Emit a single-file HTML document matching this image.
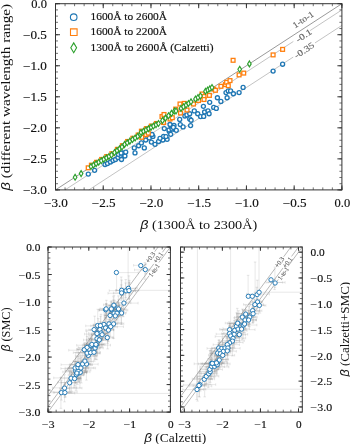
<!DOCTYPE html><html><head><meta charset="utf-8"><style>html,body{margin:0;padding:0;background:#fff;overflow:hidden;}svg{display:block;will-change:transform;}text{font-family:"Liberation Serif", serif;}</style></head><body>
<svg width="350" height="444" viewBox="0 0 350 444">
<rect width="350" height="444" fill="#fff"/>
<g>
<path d="M55.50 189.90L341.90 3.70" stroke="#808080" stroke-width="0.80" fill="none"/>
<path d="M65.05 189.90L293.32 41.49M310.08 30.59L341.90 9.91" stroke="#9a9a9a" stroke-width="0.60" fill="none"/>
<path d="M88.91 189.90L293.20 57.08M315.00 42.91L341.90 25.42" stroke="#9a9a9a" stroke-width="0.60" fill="none"/>
<text x="304.78" y="21.98" font-size="8.80" text-anchor="middle" fill="#666" stroke="#666" stroke-width="0.15" textLength="23.50" lengthAdjust="spacingAndGlyphs" transform="rotate(-33.03 304.78 21.98)">1-to-1</text>
<text x="305.38" y="37.98" font-size="8.80" text-anchor="middle" fill="#666" stroke="#666" stroke-width="0.15" textLength="17.20" lengthAdjust="spacingAndGlyphs" transform="rotate(-33.03 305.38 37.98)">-0.1</text>
<text x="305.78" y="52.68" font-size="8.80" text-anchor="middle" fill="#666" stroke="#666" stroke-width="0.15" textLength="22.20" lengthAdjust="spacingAndGlyphs" transform="rotate(-33.03 305.78 52.68)">-0.35</text>
<circle cx="88.30" cy="174.10" r="2.00" stroke="#1f77b4" stroke-width="1.35" fill="#fff"/>
<circle cx="94.60" cy="170.30" r="2.00" stroke="#1f77b4" stroke-width="1.35" fill="#fff"/>
<circle cx="105.00" cy="164.50" r="2.00" stroke="#1f77b4" stroke-width="1.35" fill="#fff"/>
<circle cx="107.50" cy="163.50" r="2.00" stroke="#1f77b4" stroke-width="1.35" fill="#fff"/>
<circle cx="110.50" cy="162.00" r="2.00" stroke="#1f77b4" stroke-width="1.35" fill="#fff"/>
<circle cx="113.00" cy="160.50" r="2.00" stroke="#1f77b4" stroke-width="1.35" fill="#fff"/>
<circle cx="115.50" cy="159.50" r="2.00" stroke="#1f77b4" stroke-width="1.35" fill="#fff"/>
<circle cx="118.00" cy="157.50" r="2.00" stroke="#1f77b4" stroke-width="1.35" fill="#fff"/>
<circle cx="120.50" cy="155.50" r="2.00" stroke="#1f77b4" stroke-width="1.35" fill="#fff"/>
<circle cx="121.50" cy="159.50" r="2.00" stroke="#1f77b4" stroke-width="1.35" fill="#fff"/>
<circle cx="122.50" cy="153.00" r="2.00" stroke="#1f77b4" stroke-width="1.35" fill="#fff"/>
<circle cx="124.90" cy="156.00" r="2.00" stroke="#1f77b4" stroke-width="1.35" fill="#fff"/>
<circle cx="118.30" cy="154.30" r="2.00" stroke="#1f77b4" stroke-width="1.35" fill="#fff"/>
<circle cx="121.10" cy="153.10" r="2.00" stroke="#1f77b4" stroke-width="1.35" fill="#fff"/>
<circle cx="125.70" cy="152.10" r="2.00" stroke="#1f77b4" stroke-width="1.35" fill="#fff"/>
<circle cx="134.30" cy="147.90" r="2.00" stroke="#1f77b4" stroke-width="1.35" fill="#fff"/>
<circle cx="135.00" cy="152.90" r="2.00" stroke="#1f77b4" stroke-width="1.35" fill="#fff"/>
<circle cx="138.60" cy="145.70" r="2.00" stroke="#1f77b4" stroke-width="1.35" fill="#fff"/>
<circle cx="144.30" cy="147.90" r="2.00" stroke="#1f77b4" stroke-width="1.35" fill="#fff"/>
<circle cx="141.40" cy="142.90" r="2.00" stroke="#1f77b4" stroke-width="1.35" fill="#fff"/>
<circle cx="145.70" cy="140.00" r="2.00" stroke="#1f77b4" stroke-width="1.35" fill="#fff"/>
<circle cx="149.30" cy="137.90" r="2.00" stroke="#1f77b4" stroke-width="1.35" fill="#fff"/>
<circle cx="152.90" cy="136.40" r="2.00" stroke="#1f77b4" stroke-width="1.35" fill="#fff"/>
<circle cx="151.40" cy="142.10" r="2.00" stroke="#1f77b4" stroke-width="1.35" fill="#fff"/>
<circle cx="155.00" cy="144.30" r="2.00" stroke="#1f77b4" stroke-width="1.35" fill="#fff"/>
<circle cx="158.60" cy="141.40" r="2.00" stroke="#1f77b4" stroke-width="1.35" fill="#fff"/>
<circle cx="162.90" cy="140.00" r="2.00" stroke="#1f77b4" stroke-width="1.35" fill="#fff"/>
<circle cx="163.60" cy="136.40" r="2.00" stroke="#1f77b4" stroke-width="1.35" fill="#fff"/>
<circle cx="167.10" cy="139.30" r="2.00" stroke="#1f77b4" stroke-width="1.35" fill="#fff"/>
<circle cx="164.30" cy="128.60" r="2.00" stroke="#1f77b4" stroke-width="1.35" fill="#fff"/>
<circle cx="169.30" cy="131.40" r="2.00" stroke="#1f77b4" stroke-width="1.35" fill="#fff"/>
<circle cx="170.70" cy="134.30" r="2.00" stroke="#1f77b4" stroke-width="1.35" fill="#fff"/>
<circle cx="171.40" cy="126.40" r="2.00" stroke="#1f77b4" stroke-width="1.35" fill="#fff"/>
<circle cx="174.30" cy="129.30" r="2.00" stroke="#1f77b4" stroke-width="1.35" fill="#fff"/>
<circle cx="152.00" cy="134.50" r="2.00" stroke="#1f77b4" stroke-width="1.35" fill="#fff"/>
<circle cx="169.00" cy="130.00" r="2.00" stroke="#1f77b4" stroke-width="1.35" fill="#fff"/>
<circle cx="172.00" cy="129.00" r="2.00" stroke="#1f77b4" stroke-width="1.35" fill="#fff"/>
<circle cx="174.00" cy="125.50" r="2.00" stroke="#1f77b4" stroke-width="1.35" fill="#fff"/>
<circle cx="170.00" cy="124.50" r="2.00" stroke="#1f77b4" stroke-width="1.35" fill="#fff"/>
<circle cx="173.40" cy="127.40" r="2.00" stroke="#1f77b4" stroke-width="1.35" fill="#fff"/>
<circle cx="176.30" cy="130.30" r="2.00" stroke="#1f77b4" stroke-width="1.35" fill="#fff"/>
<circle cx="179.70" cy="119.40" r="2.00" stroke="#1f77b4" stroke-width="1.35" fill="#fff"/>
<circle cx="180.30" cy="124.60" r="2.00" stroke="#1f77b4" stroke-width="1.35" fill="#fff"/>
<circle cx="183.10" cy="126.90" r="2.00" stroke="#1f77b4" stroke-width="1.35" fill="#fff"/>
<circle cx="184.90" cy="116.00" r="2.00" stroke="#1f77b4" stroke-width="1.35" fill="#fff"/>
<circle cx="186.90" cy="114.90" r="2.00" stroke="#1f77b4" stroke-width="1.35" fill="#fff"/>
<circle cx="189.70" cy="113.70" r="2.00" stroke="#1f77b4" stroke-width="1.35" fill="#fff"/>
<circle cx="194.30" cy="110.90" r="2.00" stroke="#1f77b4" stroke-width="1.35" fill="#fff"/>
<circle cx="197.70" cy="113.70" r="2.00" stroke="#1f77b4" stroke-width="1.35" fill="#fff"/>
<circle cx="200.60" cy="116.60" r="2.00" stroke="#1f77b4" stroke-width="1.35" fill="#fff"/>
<circle cx="203.40" cy="106.30" r="2.00" stroke="#1f77b4" stroke-width="1.35" fill="#fff"/>
<circle cx="204.60" cy="112.00" r="2.00" stroke="#1f77b4" stroke-width="1.35" fill="#fff"/>
<circle cx="208.00" cy="110.90" r="2.00" stroke="#1f77b4" stroke-width="1.35" fill="#fff"/>
<circle cx="209.10" cy="113.70" r="2.00" stroke="#1f77b4" stroke-width="1.35" fill="#fff"/>
<circle cx="209.70" cy="102.30" r="2.00" stroke="#1f77b4" stroke-width="1.35" fill="#fff"/>
<circle cx="213.70" cy="107.40" r="2.00" stroke="#1f77b4" stroke-width="1.35" fill="#fff"/>
<circle cx="220.90" cy="101.40" r="2.00" stroke="#1f77b4" stroke-width="1.35" fill="#fff"/>
<circle cx="189.70" cy="118.90" r="2.00" stroke="#1f77b4" stroke-width="1.35" fill="#fff"/>
<circle cx="217.40" cy="97.70" r="2.00" stroke="#1f77b4" stroke-width="1.35" fill="#fff"/>
<circle cx="226.00" cy="92.60" r="2.00" stroke="#1f77b4" stroke-width="1.35" fill="#fff"/>
<circle cx="228.30" cy="90.90" r="2.00" stroke="#1f77b4" stroke-width="1.35" fill="#fff"/>
<circle cx="230.60" cy="90.90" r="2.00" stroke="#1f77b4" stroke-width="1.35" fill="#fff"/>
<circle cx="233.40" cy="93.70" r="2.00" stroke="#1f77b4" stroke-width="1.35" fill="#fff"/>
<circle cx="227.10" cy="97.70" r="2.00" stroke="#1f77b4" stroke-width="1.35" fill="#fff"/>
<circle cx="239.10" cy="92.60" r="2.00" stroke="#1f77b4" stroke-width="1.35" fill="#fff"/>
<circle cx="243.10" cy="87.40" r="2.00" stroke="#1f77b4" stroke-width="1.35" fill="#fff"/>
<circle cx="273.10" cy="71.10" r="2.00" stroke="#1f77b4" stroke-width="1.35" fill="#fff"/>
<circle cx="282.60" cy="64.20" r="2.00" stroke="#1f77b4" stroke-width="1.35" fill="#fff"/>
<circle cx="160.00" cy="138.30" r="2.00" stroke="#1f77b4" stroke-width="1.35" fill="#fff"/>
<circle cx="166.00" cy="136.60" r="2.00" stroke="#1f77b4" stroke-width="1.35" fill="#fff"/>
<circle cx="190.60" cy="125.60" r="2.00" stroke="#1f77b4" stroke-width="1.35" fill="#fff"/>
<circle cx="191.10" cy="120.20" r="2.00" stroke="#1f77b4" stroke-width="1.35" fill="#fff"/>
<circle cx="203.70" cy="116.40" r="2.00" stroke="#1f77b4" stroke-width="1.35" fill="#fff"/>
<circle cx="216.30" cy="108.40" r="2.00" stroke="#1f77b4" stroke-width="1.35" fill="#fff"/>
<rect x="89.50" y="163.30" width="3.80" height="3.80" stroke="#ff7f0e" stroke-width="1.30" fill="#fff"/>
<rect x="94.62" y="160.42" width="3.80" height="3.80" stroke="#ff7f0e" stroke-width="1.30" fill="#fff"/>
<rect x="99.75" y="157.55" width="3.80" height="3.80" stroke="#ff7f0e" stroke-width="1.30" fill="#fff"/>
<rect x="104.88" y="154.67" width="3.80" height="3.80" stroke="#ff7f0e" stroke-width="1.30" fill="#fff"/>
<rect x="110.00" y="151.80" width="3.80" height="3.80" stroke="#ff7f0e" stroke-width="1.30" fill="#fff"/>
<rect x="115.50" y="147.47" width="3.80" height="3.80" stroke="#ff7f0e" stroke-width="1.30" fill="#fff"/>
<rect x="120.50" y="143.80" width="3.80" height="3.80" stroke="#ff7f0e" stroke-width="1.30" fill="#fff"/>
<rect x="125.73" y="139.58" width="3.80" height="3.80" stroke="#ff7f0e" stroke-width="1.30" fill="#fff"/>
<rect x="131.00" y="136.35" width="3.80" height="3.80" stroke="#ff7f0e" stroke-width="1.30" fill="#fff"/>
<rect x="136.27" y="133.12" width="3.80" height="3.80" stroke="#ff7f0e" stroke-width="1.30" fill="#fff"/>
<rect x="139.50" y="129.30" width="3.80" height="3.80" stroke="#ff7f0e" stroke-width="1.30" fill="#fff"/>
<rect x="144.50" y="126.73" width="3.80" height="3.80" stroke="#ff7f0e" stroke-width="1.30" fill="#fff"/>
<rect x="149.50" y="124.16" width="3.80" height="3.80" stroke="#ff7f0e" stroke-width="1.30" fill="#fff"/>
<rect x="154.50" y="121.59" width="3.80" height="3.80" stroke="#ff7f0e" stroke-width="1.30" fill="#fff"/>
<rect x="86.30" y="165.90" width="3.80" height="3.80" stroke="#ff7f0e" stroke-width="1.30" fill="#fff"/>
<rect x="139.80" y="135.40" width="3.80" height="3.80" stroke="#ff7f0e" stroke-width="1.30" fill="#fff"/>
<rect x="144.10" y="132.80" width="3.80" height="3.80" stroke="#ff7f0e" stroke-width="1.30" fill="#fff"/>
<rect x="160.10" y="114.60" width="3.80" height="3.80" stroke="#ff7f0e" stroke-width="1.30" fill="#fff"/>
<rect x="162.10" y="112.60" width="3.80" height="3.80" stroke="#ff7f0e" stroke-width="1.30" fill="#fff"/>
<rect x="161.60" y="120.60" width="3.80" height="3.80" stroke="#ff7f0e" stroke-width="1.30" fill="#fff"/>
<rect x="168.10" y="117.10" width="3.80" height="3.80" stroke="#ff7f0e" stroke-width="1.30" fill="#fff"/>
<rect x="178.10" y="102.10" width="3.80" height="3.80" stroke="#ff7f0e" stroke-width="1.30" fill="#fff"/>
<rect x="178.60" y="111.10" width="3.80" height="3.80" stroke="#ff7f0e" stroke-width="1.30" fill="#fff"/>
<rect x="185.10" y="108.10" width="3.80" height="3.80" stroke="#ff7f0e" stroke-width="1.30" fill="#fff"/>
<rect x="191.60" y="102.10" width="3.80" height="3.80" stroke="#ff7f0e" stroke-width="1.30" fill="#fff"/>
<rect x="196.60" y="98.60" width="3.80" height="3.80" stroke="#ff7f0e" stroke-width="1.30" fill="#fff"/>
<rect x="200.10" y="92.10" width="3.80" height="3.80" stroke="#ff7f0e" stroke-width="1.30" fill="#fff"/>
<rect x="202.10" y="94.60" width="3.80" height="3.80" stroke="#ff7f0e" stroke-width="1.30" fill="#fff"/>
<rect x="202.10" y="97.60" width="3.80" height="3.80" stroke="#ff7f0e" stroke-width="1.30" fill="#fff"/>
<rect x="207.50" y="93.50" width="3.80" height="3.80" stroke="#ff7f0e" stroke-width="1.30" fill="#fff"/>
<rect x="211.80" y="87.20" width="3.80" height="3.80" stroke="#ff7f0e" stroke-width="1.30" fill="#fff"/>
<rect x="213.50" y="88.40" width="3.80" height="3.80" stroke="#ff7f0e" stroke-width="1.30" fill="#fff"/>
<rect x="219.00" y="84.40" width="3.80" height="3.80" stroke="#ff7f0e" stroke-width="1.30" fill="#fff"/>
<rect x="223.50" y="82.70" width="3.80" height="3.80" stroke="#ff7f0e" stroke-width="1.30" fill="#fff"/>
<rect x="224.70" y="80.40" width="3.80" height="3.80" stroke="#ff7f0e" stroke-width="1.30" fill="#fff"/>
<rect x="228.10" y="78.70" width="3.80" height="3.80" stroke="#ff7f0e" stroke-width="1.30" fill="#fff"/>
<rect x="226.40" y="83.80" width="3.80" height="3.80" stroke="#ff7f0e" stroke-width="1.30" fill="#fff"/>
<rect x="237.20" y="73.00" width="3.80" height="3.80" stroke="#ff7f0e" stroke-width="1.30" fill="#fff"/>
<rect x="241.80" y="71.20" width="3.80" height="3.80" stroke="#ff7f0e" stroke-width="1.30" fill="#fff"/>
<rect x="231.20" y="58.40" width="3.80" height="3.80" stroke="#ff7f0e" stroke-width="1.30" fill="#fff"/>
<rect x="271.20" y="53.00" width="3.80" height="3.80" stroke="#ff7f0e" stroke-width="1.30" fill="#fff"/>
<rect x="280.70" y="47.50" width="3.80" height="3.80" stroke="#ff7f0e" stroke-width="1.30" fill="#fff"/>
<rect x="146.40" y="131.20" width="3.80" height="3.80" stroke="#ff7f0e" stroke-width="1.30" fill="#fff"/>
<rect x="170.40" y="115.80" width="3.80" height="3.80" stroke="#ff7f0e" stroke-width="1.30" fill="#fff"/>
<rect x="173.80" y="107.20" width="3.80" height="3.80" stroke="#ff7f0e" stroke-width="1.30" fill="#fff"/>
<rect x="182.40" y="101.50" width="3.80" height="3.80" stroke="#ff7f0e" stroke-width="1.30" fill="#fff"/>
<path d="M75.10 174.35l1.80 2.95l-1.80 2.95l-1.80 -2.95z" stroke="#2ca02c" stroke-width="1.15" fill="#fff"/>
<path d="M81.10 170.65l1.80 2.95l-1.80 2.95l-1.80 -2.95z" stroke="#2ca02c" stroke-width="1.15" fill="#fff"/>
<path d="M239.70 66.35l1.80 2.95l-1.80 2.95l-1.80 -2.95z" stroke="#2ca02c" stroke-width="1.15" fill="#fff"/>
<path d="M249.40 60.95l1.80 2.95l-1.80 2.95l-1.80 -2.95z" stroke="#2ca02c" stroke-width="1.15" fill="#fff"/>
<path d="M91.00 163.55l1.80 2.95l-1.80 2.95l-1.80 -2.95z" stroke="#2ca02c" stroke-width="1.15" fill="#fff"/>
<path d="M93.56 162.11l1.80 2.95l-1.80 2.95l-1.80 -2.95z" stroke="#2ca02c" stroke-width="1.15" fill="#fff"/>
<path d="M96.12 160.68l1.80 2.95l-1.80 2.95l-1.80 -2.95z" stroke="#2ca02c" stroke-width="1.15" fill="#fff"/>
<path d="M98.69 159.24l1.80 2.95l-1.80 2.95l-1.80 -2.95z" stroke="#2ca02c" stroke-width="1.15" fill="#fff"/>
<path d="M101.25 157.80l1.80 2.95l-1.80 2.95l-1.80 -2.95z" stroke="#2ca02c" stroke-width="1.15" fill="#fff"/>
<path d="M103.81 156.36l1.80 2.95l-1.80 2.95l-1.80 -2.95z" stroke="#2ca02c" stroke-width="1.15" fill="#fff"/>
<path d="M106.38 154.93l1.80 2.95l-1.80 2.95l-1.80 -2.95z" stroke="#2ca02c" stroke-width="1.15" fill="#fff"/>
<path d="M108.94 153.49l1.80 2.95l-1.80 2.95l-1.80 -2.95z" stroke="#2ca02c" stroke-width="1.15" fill="#fff"/>
<path d="M111.50 152.05l1.80 2.95l-1.80 2.95l-1.80 -2.95z" stroke="#2ca02c" stroke-width="1.15" fill="#fff"/>
<path d="M114.50 149.55l1.80 2.95l-1.80 2.95l-1.80 -2.95z" stroke="#2ca02c" stroke-width="1.15" fill="#fff"/>
<path d="M117.00 147.72l1.80 2.95l-1.80 2.95l-1.80 -2.95z" stroke="#2ca02c" stroke-width="1.15" fill="#fff"/>
<path d="M119.50 145.88l1.80 2.95l-1.80 2.95l-1.80 -2.95z" stroke="#2ca02c" stroke-width="1.15" fill="#fff"/>
<path d="M122.00 144.05l1.80 2.95l-1.80 2.95l-1.80 -2.95z" stroke="#2ca02c" stroke-width="1.15" fill="#fff"/>
<path d="M124.60 141.45l1.80 2.95l-1.80 2.95l-1.80 -2.95z" stroke="#2ca02c" stroke-width="1.15" fill="#fff"/>
<path d="M127.23 139.83l1.80 2.95l-1.80 2.95l-1.80 -2.95z" stroke="#2ca02c" stroke-width="1.15" fill="#fff"/>
<path d="M129.87 138.22l1.80 2.95l-1.80 2.95l-1.80 -2.95z" stroke="#2ca02c" stroke-width="1.15" fill="#fff"/>
<path d="M132.50 136.60l1.80 2.95l-1.80 2.95l-1.80 -2.95z" stroke="#2ca02c" stroke-width="1.15" fill="#fff"/>
<path d="M135.13 134.98l1.80 2.95l-1.80 2.95l-1.80 -2.95z" stroke="#2ca02c" stroke-width="1.15" fill="#fff"/>
<path d="M137.77 133.37l1.80 2.95l-1.80 2.95l-1.80 -2.95z" stroke="#2ca02c" stroke-width="1.15" fill="#fff"/>
<path d="M140.40 131.75l1.80 2.95l-1.80 2.95l-1.80 -2.95z" stroke="#2ca02c" stroke-width="1.15" fill="#fff"/>
<path d="M141.00 129.55l1.80 2.95l-1.80 2.95l-1.80 -2.95z" stroke="#2ca02c" stroke-width="1.15" fill="#fff"/>
<path d="M143.50 128.26l1.80 2.95l-1.80 2.95l-1.80 -2.95z" stroke="#2ca02c" stroke-width="1.15" fill="#fff"/>
<path d="M146.00 126.98l1.80 2.95l-1.80 2.95l-1.80 -2.95z" stroke="#2ca02c" stroke-width="1.15" fill="#fff"/>
<path d="M148.50 125.69l1.80 2.95l-1.80 2.95l-1.80 -2.95z" stroke="#2ca02c" stroke-width="1.15" fill="#fff"/>
<path d="M151.00 124.41l1.80 2.95l-1.80 2.95l-1.80 -2.95z" stroke="#2ca02c" stroke-width="1.15" fill="#fff"/>
<path d="M153.50 123.12l1.80 2.95l-1.80 2.95l-1.80 -2.95z" stroke="#2ca02c" stroke-width="1.15" fill="#fff"/>
<path d="M156.00 121.84l1.80 2.95l-1.80 2.95l-1.80 -2.95z" stroke="#2ca02c" stroke-width="1.15" fill="#fff"/>
<path d="M158.50 120.55l1.80 2.95l-1.80 2.95l-1.80 -2.95z" stroke="#2ca02c" stroke-width="1.15" fill="#fff"/>
<path d="M162.50 117.55l1.80 2.95l-1.80 2.95l-1.80 -2.95z" stroke="#2ca02c" stroke-width="1.15" fill="#fff"/>
<path d="M165.50 115.17l1.80 2.95l-1.80 2.95l-1.80 -2.95z" stroke="#2ca02c" stroke-width="1.15" fill="#fff"/>
<path d="M168.50 112.80l1.80 2.95l-1.80 2.95l-1.80 -2.95z" stroke="#2ca02c" stroke-width="1.15" fill="#fff"/>
<path d="M171.50 110.42l1.80 2.95l-1.80 2.95l-1.80 -2.95z" stroke="#2ca02c" stroke-width="1.15" fill="#fff"/>
<path d="M174.50 108.05l1.80 2.95l-1.80 2.95l-1.80 -2.95z" stroke="#2ca02c" stroke-width="1.15" fill="#fff"/>
<path d="M176.00 108.05l1.80 2.95l-1.80 2.95l-1.80 -2.95z" stroke="#2ca02c" stroke-width="1.15" fill="#fff"/>
<path d="M181.00 105.45l1.80 2.95l-1.80 2.95l-1.80 -2.95z" stroke="#2ca02c" stroke-width="1.15" fill="#fff"/>
<path d="M183.50 103.80l1.80 2.95l-1.80 2.95l-1.80 -2.95z" stroke="#2ca02c" stroke-width="1.15" fill="#fff"/>
<path d="M186.00 102.15l1.80 2.95l-1.80 2.95l-1.80 -2.95z" stroke="#2ca02c" stroke-width="1.15" fill="#fff"/>
<path d="M188.50 100.50l1.80 2.95l-1.80 2.95l-1.80 -2.95z" stroke="#2ca02c" stroke-width="1.15" fill="#fff"/>
<path d="M191.00 98.85l1.80 2.95l-1.80 2.95l-1.80 -2.95z" stroke="#2ca02c" stroke-width="1.15" fill="#fff"/>
<path d="M195.50 96.05l1.80 2.95l-1.80 2.95l-1.80 -2.95z" stroke="#2ca02c" stroke-width="1.15" fill="#fff"/>
<path d="M198.00 94.55l1.80 2.95l-1.80 2.95l-1.80 -2.95z" stroke="#2ca02c" stroke-width="1.15" fill="#fff"/>
<path d="M200.50 93.05l1.80 2.95l-1.80 2.95l-1.80 -2.95z" stroke="#2ca02c" stroke-width="1.15" fill="#fff"/>
<path d="M205.50 88.25l1.80 2.95l-1.80 2.95l-1.80 -2.95z" stroke="#2ca02c" stroke-width="1.15" fill="#fff"/>
<path d="M207.67 87.02l1.80 2.95l-1.80 2.95l-1.80 -2.95z" stroke="#2ca02c" stroke-width="1.15" fill="#fff"/>
<path d="M209.83 85.78l1.80 2.95l-1.80 2.95l-1.80 -2.95z" stroke="#2ca02c" stroke-width="1.15" fill="#fff"/>
<path d="M212.00 84.55l1.80 2.95l-1.80 2.95l-1.80 -2.95z" stroke="#2ca02c" stroke-width="1.15" fill="#fff"/>
</g>
<path d="M70.40 17.20a3.30 3.30 0 1 0 6.60 0a3.30 3.30 0 1 0 -6.60 0" stroke="#1f77b4" stroke-width="1.10" fill="none"/>
<path d="M70.50 28.90h6.60v6.60h-6.60z" stroke="#ff7f0e" stroke-width="1.10" fill="none"/>
<path d="M73.70 42.90l2.90 4.90l-2.90 4.90l-2.90 -4.90z" stroke="#2ca02c" stroke-width="1.10" fill="none"/>
<text x="90.50" y="20.20" font-size="10.30" text-anchor="start" fill="#111" stroke="#111" stroke-width="0.15" textLength="76.50" lengthAdjust="spacingAndGlyphs">1600Å to 2600Å</text>
<text x="90.50" y="35.40" font-size="10.30" text-anchor="start" fill="#111" stroke="#111" stroke-width="0.15" textLength="76.50" lengthAdjust="spacingAndGlyphs">1600Å to 2200Å</text>
<text x="90.50" y="51.00" font-size="10.30" text-anchor="start" fill="#111" stroke="#111" stroke-width="0.15" textLength="123.00" lengthAdjust="spacingAndGlyphs">1300Å to 2600Å (Calzetti)</text>
<path d="M55.50 189.90L55.50 185.40M55.50 3.70L55.50 8.20M103.23 189.90L103.23 185.40M103.23 3.70L103.23 8.20M150.97 189.90L150.97 185.40M150.97 3.70L150.97 8.20M198.70 189.90L198.70 185.40M198.70 3.70L198.70 8.20M246.43 189.90L246.43 185.40M246.43 3.70L246.43 8.20M294.17 189.90L294.17 185.40M294.17 3.70L294.17 8.20M341.90 189.90L341.90 185.40M341.90 3.70L341.90 8.20M55.50 189.90L60.00 189.90M341.90 189.90L337.40 189.90M55.50 158.87L60.00 158.87M341.90 158.87L337.40 158.87M55.50 127.83L60.00 127.83M341.90 127.83L337.40 127.83M55.50 96.80L60.00 96.80M341.90 96.80L337.40 96.80M55.50 65.77L60.00 65.77M341.90 65.77L337.40 65.77M55.50 34.73L60.00 34.73M341.90 34.73L337.40 34.73M55.50 3.70L60.00 3.70M341.90 3.70L337.40 3.70" stroke="#333" stroke-width="1.00" fill="none"/>
<path d="M55.50 189.90L55.50 187.40M55.50 3.70L55.50 6.20M65.05 189.90L65.05 187.40M65.05 3.70L65.05 6.20M74.59 189.90L74.59 187.40M74.59 3.70L74.59 6.20M84.14 189.90L84.14 187.40M84.14 3.70L84.14 6.20M93.69 189.90L93.69 187.40M93.69 3.70L93.69 6.20M103.23 189.90L103.23 187.40M103.23 3.70L103.23 6.20M112.78 189.90L112.78 187.40M112.78 3.70L112.78 6.20M122.33 189.90L122.33 187.40M122.33 3.70L122.33 6.20M131.87 189.90L131.87 187.40M131.87 3.70L131.87 6.20M141.42 189.90L141.42 187.40M141.42 3.70L141.42 6.20M150.97 189.90L150.97 187.40M150.97 3.70L150.97 6.20M160.51 189.90L160.51 187.40M160.51 3.70L160.51 6.20M170.06 189.90L170.06 187.40M170.06 3.70L170.06 6.20M179.61 189.90L179.61 187.40M179.61 3.70L179.61 6.20M189.15 189.90L189.15 187.40M189.15 3.70L189.15 6.20M198.70 189.90L198.70 187.40M198.70 3.70L198.70 6.20M208.25 189.90L208.25 187.40M208.25 3.70L208.25 6.20M217.79 189.90L217.79 187.40M217.79 3.70L217.79 6.20M227.34 189.90L227.34 187.40M227.34 3.70L227.34 6.20M236.89 189.90L236.89 187.40M236.89 3.70L236.89 6.20M246.43 189.90L246.43 187.40M246.43 3.70L246.43 6.20M255.98 189.90L255.98 187.40M255.98 3.70L255.98 6.20M265.53 189.90L265.53 187.40M265.53 3.70L265.53 6.20M275.07 189.90L275.07 187.40M275.07 3.70L275.07 6.20M284.62 189.90L284.62 187.40M284.62 3.70L284.62 6.20M294.17 189.90L294.17 187.40M294.17 3.70L294.17 6.20M303.71 189.90L303.71 187.40M303.71 3.70L303.71 6.20M313.26 189.90L313.26 187.40M313.26 3.70L313.26 6.20M322.81 189.90L322.81 187.40M322.81 3.70L322.81 6.20M332.35 189.90L332.35 187.40M332.35 3.70L332.35 6.20M341.90 189.90L341.90 187.40M341.90 3.70L341.90 6.20M55.50 189.90L58.00 189.90M341.90 189.90L339.40 189.90M55.50 183.69L58.00 183.69M341.90 183.69L339.40 183.69M55.50 177.49L58.00 177.49M341.90 177.49L339.40 177.49M55.50 171.28L58.00 171.28M341.90 171.28L339.40 171.28M55.50 165.07L58.00 165.07M341.90 165.07L339.40 165.07M55.50 158.87L58.00 158.87M341.90 158.87L339.40 158.87M55.50 152.66L58.00 152.66M341.90 152.66L339.40 152.66M55.50 146.45L58.00 146.45M341.90 146.45L339.40 146.45M55.50 140.25L58.00 140.25M341.90 140.25L339.40 140.25M55.50 134.04L58.00 134.04M341.90 134.04L339.40 134.04M55.50 127.83L58.00 127.83M341.90 127.83L339.40 127.83M55.50 121.63L58.00 121.63M341.90 121.63L339.40 121.63M55.50 115.42L58.00 115.42M341.90 115.42L339.40 115.42M55.50 109.21L58.00 109.21M341.90 109.21L339.40 109.21M55.50 103.01L58.00 103.01M341.90 103.01L339.40 103.01M55.50 96.80L58.00 96.80M341.90 96.80L339.40 96.80M55.50 90.59L58.00 90.59M341.90 90.59L339.40 90.59M55.50 84.39L58.00 84.39M341.90 84.39L339.40 84.39M55.50 78.18L58.00 78.18M341.90 78.18L339.40 78.18M55.50 71.97L58.00 71.97M341.90 71.97L339.40 71.97M55.50 65.77L58.00 65.77M341.90 65.77L339.40 65.77M55.50 59.56L58.00 59.56M341.90 59.56L339.40 59.56M55.50 53.35L58.00 53.35M341.90 53.35L339.40 53.35M55.50 47.15L58.00 47.15M341.90 47.15L339.40 47.15M55.50 40.94L58.00 40.94M341.90 40.94L339.40 40.94M55.50 34.73L58.00 34.73M341.90 34.73L339.40 34.73M55.50 28.53L58.00 28.53M341.90 28.53L339.40 28.53M55.50 22.32L58.00 22.32M341.90 22.32L339.40 22.32M55.50 16.11L58.00 16.11M341.90 16.11L339.40 16.11M55.50 9.91L58.00 9.91M341.90 9.91L339.40 9.91M55.50 3.70L58.00 3.70M341.90 3.70L339.40 3.70" stroke="#333" stroke-width="0.70" fill="none"/>
<text x="46.90" y="194.00" font-size="11.70" text-anchor="end" fill="#111" stroke="#111" stroke-width="0.15" textLength="23.80" lengthAdjust="spacingAndGlyphs">−3.0</text>
<text x="46.90" y="162.97" font-size="11.70" text-anchor="end" fill="#111" stroke="#111" stroke-width="0.15" textLength="23.80" lengthAdjust="spacingAndGlyphs">−2.5</text>
<text x="46.90" y="131.93" font-size="11.70" text-anchor="end" fill="#111" stroke="#111" stroke-width="0.15" textLength="23.80" lengthAdjust="spacingAndGlyphs">−2.0</text>
<text x="46.90" y="100.90" font-size="11.70" text-anchor="end" fill="#111" stroke="#111" stroke-width="0.15" textLength="23.80" lengthAdjust="spacingAndGlyphs">−1.5</text>
<text x="46.90" y="69.87" font-size="11.70" text-anchor="end" fill="#111" stroke="#111" stroke-width="0.15" textLength="23.80" lengthAdjust="spacingAndGlyphs">−1.0</text>
<text x="46.90" y="38.83" font-size="11.70" text-anchor="end" fill="#111" stroke="#111" stroke-width="0.15" textLength="23.80" lengthAdjust="spacingAndGlyphs">−0.5</text>
<text x="46.90" y="7.80" font-size="11.70" text-anchor="end" fill="#111" stroke="#111" stroke-width="0.15" textLength="15.60" lengthAdjust="spacingAndGlyphs">0.0</text>
<text x="56.00" y="206.80" font-size="11.70" text-anchor="middle" fill="#111" stroke="#111" stroke-width="0.15" textLength="23.80" lengthAdjust="spacingAndGlyphs">−3.0</text>
<text x="103.73" y="206.80" font-size="11.70" text-anchor="middle" fill="#111" stroke="#111" stroke-width="0.15" textLength="23.80" lengthAdjust="spacingAndGlyphs">−2.5</text>
<text x="151.47" y="206.80" font-size="11.70" text-anchor="middle" fill="#111" stroke="#111" stroke-width="0.15" textLength="23.80" lengthAdjust="spacingAndGlyphs">−2.0</text>
<text x="199.20" y="206.80" font-size="11.70" text-anchor="middle" fill="#111" stroke="#111" stroke-width="0.15" textLength="23.80" lengthAdjust="spacingAndGlyphs">−1.5</text>
<text x="246.93" y="206.80" font-size="11.70" text-anchor="middle" fill="#111" stroke="#111" stroke-width="0.15" textLength="23.80" lengthAdjust="spacingAndGlyphs">−1.0</text>
<text x="294.67" y="206.80" font-size="11.70" text-anchor="middle" fill="#111" stroke="#111" stroke-width="0.15" textLength="23.80" lengthAdjust="spacingAndGlyphs">−0.5</text>
<text x="342.40" y="206.80" font-size="11.70" text-anchor="middle" fill="#111" stroke="#111" stroke-width="0.15" textLength="15.60" lengthAdjust="spacingAndGlyphs">0.0</text>
<text x="198.80" y="228.90" font-size="12.20" text-anchor="middle" fill="#111" textLength="117.00" lengthAdjust="spacingAndGlyphs"><tspan font-family="Liberation Sans" font-style="italic">β</tspan> (1300Å to 2300Å)</text>
<text x="10.00" y="97.30" font-size="12.20" text-anchor="middle" fill="#111" textLength="187.00" lengthAdjust="spacingAndGlyphs" transform="rotate(-90.00 10.00 97.30)"><tspan font-family="Liberation Sans" font-style="italic">β</tspan> (different wavelength range)</text>
<rect x="55.50" y="3.70" width="286.40" height="186.20" fill="none" stroke="#333" stroke-width="1.00"/>
<path d="M48.00 395.59L146.11 263.25M154.69 251.68L158.16 247.00" stroke="#8a8a8a" stroke-width="0.60" fill="none"/>
<path d="M48.00 406.60L153.81 263.87M162.39 252.30L166.32 247.00" stroke="#8a8a8a" stroke-width="0.60" fill="none"/>
<path d="M48.00 412.10L149.12 275.71M158.88 262.53L170.40 247.00" stroke="#8a8a8a" stroke-width="0.60" fill="none"/>
<text x="152.31" y="258.82" font-size="6.80" text-anchor="middle" fill="#555" stroke="#555" stroke-width="0.10" textLength="11.80" lengthAdjust="spacingAndGlyphs" transform="rotate(-53.45 152.31 258.82)">+0.3</text>
<text x="160.01" y="258.92" font-size="6.80" text-anchor="middle" fill="#555" stroke="#555" stroke-width="0.10" textLength="11.80" lengthAdjust="spacingAndGlyphs" transform="rotate(-53.45 160.01 258.92)">+0.1</text>
<text x="155.91" y="271.62" font-size="6.80" text-anchor="middle" fill="#555" stroke="#555" stroke-width="0.10" textLength="14.00" lengthAdjust="spacingAndGlyphs" transform="rotate(-53.45 155.91 271.62)">1-to-1</text>
<g stroke="#7a7a7a" stroke-width="0.80" stroke-opacity="0.22" fill="none">
<path d="M54.14 392.70H68.79"/>
<path d="M61.41 380.20V400.09"/>
<path d="M54.14 391.40V394.00"/>
<path d="M68.79 391.40V394.00"/>
<path d="M60.11 380.20H62.71"/>
<path d="M60.11 400.09H62.71"/>
<path d="M53.10 392.36H71.88"/>
<path d="M60.91 377.22V408.31"/>
<path d="M53.10 391.06V393.66"/>
<path d="M71.88 391.06V393.66"/>
<path d="M59.61 377.22H62.21"/>
<path d="M59.61 408.31H62.21"/>
<path d="M61.35 393.16H74.82"/>
<path d="M65.48 382.85V396.86"/>
<path d="M61.35 391.86V394.46"/>
<path d="M74.82 391.86V394.46"/>
<path d="M64.18 382.85H66.78"/>
<path d="M64.18 396.86H66.78"/>
<path d="M50.85 392.07H77.15"/>
<path d="M64.93 383.87V397.62"/>
<path d="M50.85 390.77V393.37"/>
<path d="M77.15 390.77V393.37"/>
<path d="M63.63 383.87H66.23"/>
<path d="M63.63 397.62H66.23"/>
<path d="M59.60 388.51H69.37"/>
<path d="M64.53 384.60V395.79"/>
<path d="M59.60 387.21V389.81"/>
<path d="M69.37 387.21V389.81"/>
<path d="M63.23 384.60H65.83"/>
<path d="M63.23 395.79H65.83"/>
<path d="M52.41 387.83H76.91"/>
<path d="M64.55 374.77V401.86"/>
<path d="M52.41 386.53V389.13"/>
<path d="M76.91 386.53V389.13"/>
<path d="M63.25 374.77H65.85"/>
<path d="M63.25 401.86H65.85"/>
<path d="M57.79 382.48H79.98"/>
<path d="M69.48 371.08V391.71"/>
<path d="M57.79 381.18V383.78"/>
<path d="M79.98 381.18V383.78"/>
<path d="M68.18 371.08H70.78"/>
<path d="M68.18 391.71H70.78"/>
<path d="M61.15 382.66H75.62"/>
<path d="M70.12 365.97V393.08"/>
<path d="M61.15 381.36V383.96"/>
<path d="M75.62 381.36V383.96"/>
<path d="M68.82 365.97H71.42"/>
<path d="M68.82 393.08H71.42"/>
<path d="M60.38 378.16H80.85"/>
<path d="M71.59 374.63V383.13"/>
<path d="M60.38 376.86V379.46"/>
<path d="M80.85 376.86V379.46"/>
<path d="M70.29 374.63H72.89"/>
<path d="M70.29 383.13H72.89"/>
<path d="M53.71 377.92H80.65"/>
<path d="M71.43 371.24V391.15"/>
<path d="M53.71 376.62V379.22"/>
<path d="M80.65 376.62V379.22"/>
<path d="M70.13 371.24H72.73"/>
<path d="M70.13 391.15H72.73"/>
<path d="M70.20 378.30H79.54"/>
<path d="M74.14 365.90V387.85"/>
<path d="M70.20 377.00V379.60"/>
<path d="M79.54 377.00V379.60"/>
<path d="M72.84 365.90H75.44"/>
<path d="M72.84 387.85H75.44"/>
<path d="M68.23 378.54H79.99"/>
<path d="M74.67 361.61V385.96"/>
<path d="M68.23 377.24V379.84"/>
<path d="M79.99 377.24V379.84"/>
<path d="M73.37 361.61H75.97"/>
<path d="M73.37 385.96H75.97"/>
<path d="M71.09 374.50H84.14"/>
<path d="M75.84 369.82V383.00"/>
<path d="M71.09 373.20V375.80"/>
<path d="M84.14 373.20V375.80"/>
<path d="M74.54 369.82H77.14"/>
<path d="M74.54 383.00H77.14"/>
<path d="M68.27 375.06H83.73"/>
<path d="M76.06 355.89V390.36"/>
<path d="M68.27 373.76V376.36"/>
<path d="M83.73 373.76V376.36"/>
<path d="M74.76 355.89H77.36"/>
<path d="M74.76 390.36H77.36"/>
<path d="M73.72 373.49H84.38"/>
<path d="M78.62 362.28V381.93"/>
<path d="M73.72 372.19V374.79"/>
<path d="M84.38 372.19V374.79"/>
<path d="M77.32 362.28H79.92"/>
<path d="M77.32 381.93H79.92"/>
<path d="M71.10 372.39H86.35"/>
<path d="M78.86 356.07V381.61"/>
<path d="M71.10 371.09V373.69"/>
<path d="M86.35 371.09V373.69"/>
<path d="M77.56 356.07H80.16"/>
<path d="M77.56 381.61H80.16"/>
<path d="M76.25 372.24H87.29"/>
<path d="M80.15 366.58V380.34"/>
<path d="M76.25 370.94V373.54"/>
<path d="M87.29 370.94V373.54"/>
<path d="M78.85 366.58H81.45"/>
<path d="M78.85 380.34H81.45"/>
<path d="M62.75 371.88H89.96"/>
<path d="M79.92 358.35V387.88"/>
<path d="M62.75 370.58V373.18"/>
<path d="M89.96 370.58V373.18"/>
<path d="M78.62 358.35H81.22"/>
<path d="M78.62 387.88H81.22"/>
<path d="M65.42 371.13H84.83"/>
<path d="M75.99 365.43V375.82"/>
<path d="M65.42 369.83V372.43"/>
<path d="M84.83 369.83V372.43"/>
<path d="M74.69 365.43H77.29"/>
<path d="M74.69 375.82H77.29"/>
<path d="M68.11 370.12H90.88"/>
<path d="M75.61 352.40V382.74"/>
<path d="M68.11 368.82V371.42"/>
<path d="M90.88 368.82V371.42"/>
<path d="M74.31 352.40H76.91"/>
<path d="M74.31 382.74H76.91"/>
<path d="M74.25 370.99H87.61"/>
<path d="M77.71 365.39V379.89"/>
<path d="M74.25 369.69V372.29"/>
<path d="M87.61 369.69V372.29"/>
<path d="M76.41 365.39H79.01"/>
<path d="M76.41 379.89H79.01"/>
<path d="M64.96 370.27H85.33"/>
<path d="M77.48 362.32V384.35"/>
<path d="M64.96 368.97V371.57"/>
<path d="M85.33 368.97V371.57"/>
<path d="M76.18 362.32H78.78"/>
<path d="M76.18 384.35H78.78"/>
<path d="M69.63 372.74H86.56"/>
<path d="M77.40 363.70V378.21"/>
<path d="M69.63 371.44V374.04"/>
<path d="M86.56 371.44V374.04"/>
<path d="M76.10 363.70H78.70"/>
<path d="M76.10 378.21H78.70"/>
<path d="M71.24 372.94H84.14"/>
<path d="M76.51 361.17V378.77"/>
<path d="M71.24 371.64V374.24"/>
<path d="M84.14 371.64V374.24"/>
<path d="M75.21 361.17H77.81"/>
<path d="M75.21 378.77H77.81"/>
<path d="M67.92 368.19H79.44"/>
<path d="M75.68 361.53V378.53"/>
<path d="M67.92 366.89V369.49"/>
<path d="M79.44 366.89V369.49"/>
<path d="M74.38 361.53H76.98"/>
<path d="M74.38 378.53H76.98"/>
<path d="M60.91 368.49H85.57"/>
<path d="M74.52 361.08V373.92"/>
<path d="M60.91 367.19V369.79"/>
<path d="M85.57 367.19V369.79"/>
<path d="M73.22 361.08H75.82"/>
<path d="M73.22 373.92H75.82"/>
<path d="M69.19 367.68H87.79"/>
<path d="M77.98 364.06V375.94"/>
<path d="M69.19 366.38V368.98"/>
<path d="M87.79 366.38V368.98"/>
<path d="M76.68 364.06H79.28"/>
<path d="M76.68 375.94H79.28"/>
<path d="M69.33 367.88H93.97"/>
<path d="M78.28 361.37V379.66"/>
<path d="M69.33 366.58V369.18"/>
<path d="M93.97 366.58V369.18"/>
<path d="M76.98 361.37H79.58"/>
<path d="M76.98 379.66H79.58"/>
<path d="M71.63 368.22H88.66"/>
<path d="M80.72 357.72V378.76"/>
<path d="M71.63 366.92V369.52"/>
<path d="M88.66 366.92V369.52"/>
<path d="M79.42 357.72H82.02"/>
<path d="M79.42 378.76H82.02"/>
<path d="M65.11 368.09H95.60"/>
<path d="M81.34 356.88V382.94"/>
<path d="M65.11 366.79V369.39"/>
<path d="M95.60 366.79V369.39"/>
<path d="M80.04 356.88H82.64"/>
<path d="M80.04 382.94H82.64"/>
<path d="M69.39 364.77H83.04"/>
<path d="M77.50 356.23V372.74"/>
<path d="M69.39 363.47V366.07"/>
<path d="M83.04 363.47V366.07"/>
<path d="M76.20 356.23H78.80"/>
<path d="M76.20 372.74H78.80"/>
<path d="M61.08 364.70H92.51"/>
<path d="M78.28 349.37V374.43"/>
<path d="M61.08 363.40V366.00"/>
<path d="M92.51 363.40V366.00"/>
<path d="M76.98 349.37H79.58"/>
<path d="M76.98 374.43H79.58"/>
<path d="M75.42 364.12H90.86"/>
<path d="M82.04 359.99V373.21"/>
<path d="M75.42 362.82V365.42"/>
<path d="M90.86 362.82V365.42"/>
<path d="M80.74 359.99H83.34"/>
<path d="M80.74 373.21H83.34"/>
<path d="M71.88 364.50H89.73"/>
<path d="M82.74 349.61V375.57"/>
<path d="M71.88 363.20V365.80"/>
<path d="M89.73 363.20V365.80"/>
<path d="M81.44 349.61H84.04"/>
<path d="M81.44 375.57H84.04"/>
<path d="M81.11 363.60H89.10"/>
<path d="M86.24 357.56V372.12"/>
<path d="M81.11 362.30V364.90"/>
<path d="M89.10 362.30V364.90"/>
<path d="M84.94 357.56H87.54"/>
<path d="M84.94 372.12H87.54"/>
<path d="M70.30 364.20H98.15"/>
<path d="M86.39 352.78V380.12"/>
<path d="M70.30 362.90V365.50"/>
<path d="M98.15 362.90V365.50"/>
<path d="M85.09 352.78H87.69"/>
<path d="M85.09 380.12H87.69"/>
<path d="M80.72 360.96H91.19"/>
<path d="M85.36 350.56V371.28"/>
<path d="M80.72 359.66V362.26"/>
<path d="M91.19 359.66V362.26"/>
<path d="M84.06 350.56H86.66"/>
<path d="M84.06 371.28H86.66"/>
<path d="M73.29 361.52H93.19"/>
<path d="M85.30 354.31V372.47"/>
<path d="M73.29 360.22V362.82"/>
<path d="M93.19 360.22V362.82"/>
<path d="M84.00 354.31H86.60"/>
<path d="M84.00 372.47H86.60"/>
<path d="M79.68 355.13H97.62"/>
<path d="M88.24 349.45V359.45"/>
<path d="M79.68 353.83V356.43"/>
<path d="M97.62 353.83V356.43"/>
<path d="M86.94 349.45H89.54"/>
<path d="M86.94 359.45H89.54"/>
<path d="M80.70 355.81H96.88"/>
<path d="M88.08 342.25V366.55"/>
<path d="M80.70 354.51V357.11"/>
<path d="M96.88 354.51V357.11"/>
<path d="M86.78 342.25H89.38"/>
<path d="M86.78 366.55H89.38"/>
<path d="M76.95 352.55H93.39"/>
<path d="M87.55 348.63V355.78"/>
<path d="M76.95 351.25V353.85"/>
<path d="M93.39 351.25V353.85"/>
<path d="M86.25 348.63H88.85"/>
<path d="M86.25 355.78H88.85"/>
<path d="M73.30 352.66H96.94"/>
<path d="M86.52 343.36V366.88"/>
<path d="M73.30 351.36V353.96"/>
<path d="M96.94 351.36V353.96"/>
<path d="M85.22 343.36H87.82"/>
<path d="M85.22 366.88H87.82"/>
<path d="M83.67 352.06H93.02"/>
<path d="M90.17 341.71V356.87"/>
<path d="M83.67 350.76V353.36"/>
<path d="M93.02 350.76V353.36"/>
<path d="M88.87 341.71H91.47"/>
<path d="M88.87 356.87H91.47"/>
<path d="M78.71 353.15H100.04"/>
<path d="M90.97 339.65V365.72"/>
<path d="M78.71 351.85V354.45"/>
<path d="M100.04 351.85V354.45"/>
<path d="M89.67 339.65H92.27"/>
<path d="M89.67 365.72H92.27"/>
<path d="M85.14 352.27H97.48"/>
<path d="M93.41 344.95V356.62"/>
<path d="M85.14 350.97V353.57"/>
<path d="M97.48 350.97V353.57"/>
<path d="M92.11 344.95H94.71"/>
<path d="M92.11 356.62H94.71"/>
<path d="M80.98 352.32H100.44"/>
<path d="M94.24 343.52V361.20"/>
<path d="M80.98 351.02V353.62"/>
<path d="M100.44 351.02V353.62"/>
<path d="M92.94 343.52H95.54"/>
<path d="M92.94 361.20H95.54"/>
<path d="M77.12 349.20H92.67"/>
<path d="M84.79 342.64V358.23"/>
<path d="M77.12 347.90V350.50"/>
<path d="M92.67 347.90V350.50"/>
<path d="M83.49 342.64H86.09"/>
<path d="M83.49 358.23H86.09"/>
<path d="M68.72 350.19H96.38"/>
<path d="M84.45 343.31V360.27"/>
<path d="M68.72 348.89V351.49"/>
<path d="M96.38 348.89V351.49"/>
<path d="M83.15 343.31H85.75"/>
<path d="M83.15 360.27H85.75"/>
<path d="M83.60 349.06H96.01"/>
<path d="M89.43 338.41V358.11"/>
<path d="M83.60 347.76V350.36"/>
<path d="M96.01 347.76V350.36"/>
<path d="M88.13 338.41H90.73"/>
<path d="M88.13 358.11H90.73"/>
<path d="M76.68 349.36H95.49"/>
<path d="M89.07 334.82V363.72"/>
<path d="M76.68 348.06V350.66"/>
<path d="M95.49 348.06V350.66"/>
<path d="M87.77 334.82H90.37"/>
<path d="M87.77 363.72H90.37"/>
<path d="M82.59 347.75H95.95"/>
<path d="M87.14 336.31V358.13"/>
<path d="M82.59 346.45V349.05"/>
<path d="M95.95 346.45V349.05"/>
<path d="M85.84 336.31H88.44"/>
<path d="M85.84 358.13H88.44"/>
<path d="M78.15 347.33H100.42"/>
<path d="M86.60 331.13V356.10"/>
<path d="M78.15 346.03V348.63"/>
<path d="M100.42 346.03V348.63"/>
<path d="M85.30 331.13H87.90"/>
<path d="M85.30 356.10H87.90"/>
<path d="M84.38 345.18H99.34"/>
<path d="M91.47 337.91V348.31"/>
<path d="M84.38 343.88V346.48"/>
<path d="M99.34 343.88V346.48"/>
<path d="M90.17 337.91H92.77"/>
<path d="M90.17 348.31H92.77"/>
<path d="M76.68 345.28H96.68"/>
<path d="M90.67 335.85V359.13"/>
<path d="M76.68 343.98V346.58"/>
<path d="M96.68 343.98V346.58"/>
<path d="M89.37 335.85H91.97"/>
<path d="M89.37 359.13H91.97"/>
<path d="M88.76 347.99H103.25"/>
<path d="M95.63 337.71V356.19"/>
<path d="M88.76 346.69V349.29"/>
<path d="M103.25 346.69V349.29"/>
<path d="M94.33 337.71H96.93"/>
<path d="M94.33 356.19H96.93"/>
<path d="M79.00 348.27H99.99"/>
<path d="M94.85 340.25V359.16"/>
<path d="M79.00 346.97V349.57"/>
<path d="M99.99 346.97V349.57"/>
<path d="M93.55 340.25H96.15"/>
<path d="M93.55 359.16H96.15"/>
<path d="M88.33 344.96H102.25"/>
<path d="M96.07 334.74V352.10"/>
<path d="M88.33 343.66V346.26"/>
<path d="M102.25 343.66V346.26"/>
<path d="M94.77 334.74H97.37"/>
<path d="M94.77 352.10H97.37"/>
<path d="M82.37 345.13H110.49"/>
<path d="M96.86 337.34V359.69"/>
<path d="M82.37 343.83V346.43"/>
<path d="M110.49 343.83V346.43"/>
<path d="M95.56 337.34H98.16"/>
<path d="M95.56 359.69H98.16"/>
<path d="M92.10 339.43H103.15"/>
<path d="M99.23 331.89V346.04"/>
<path d="M92.10 338.13V340.73"/>
<path d="M103.15 338.13V340.73"/>
<path d="M97.93 331.89H100.53"/>
<path d="M97.93 346.04H100.53"/>
<path d="M83.49 339.99H108.62"/>
<path d="M99.18 329.90V353.75"/>
<path d="M83.49 338.69V341.29"/>
<path d="M108.62 338.69V341.29"/>
<path d="M97.88 329.90H100.48"/>
<path d="M97.88 353.75H100.48"/>
<path d="M98.91 310.31H108.88"/>
<path d="M106.15 303.47V315.68"/>
<path d="M98.91 309.01V311.61"/>
<path d="M108.88 309.01V311.61"/>
<path d="M104.85 303.47H107.45"/>
<path d="M104.85 315.68H107.45"/>
<path d="M99.05 310.28H114.12"/>
<path d="M105.98 304.28V318.91"/>
<path d="M99.05 308.98V311.58"/>
<path d="M114.12 308.98V311.58"/>
<path d="M104.68 304.28H107.28"/>
<path d="M104.68 318.91H107.28"/>
<path d="M106.02 309.16H116.06"/>
<path d="M111.81 304.89V315.90"/>
<path d="M106.02 307.86V310.46"/>
<path d="M116.06 307.86V310.46"/>
<path d="M110.51 304.89H113.11"/>
<path d="M110.51 315.90H113.11"/>
<path d="M99.32 309.39H115.46"/>
<path d="M111.52 302.62V315.88"/>
<path d="M99.32 308.09V310.69"/>
<path d="M115.46 308.09V310.69"/>
<path d="M110.22 302.62H112.82"/>
<path d="M110.22 315.88H112.82"/>
<path d="M108.73 305.91H119.65"/>
<path d="M113.65 302.34V313.32"/>
<path d="M108.73 304.61V307.21"/>
<path d="M119.65 304.61V307.21"/>
<path d="M112.35 302.34H114.95"/>
<path d="M112.35 313.32H114.95"/>
<path d="M107.31 305.80H119.45"/>
<path d="M113.95 295.34V314.34"/>
<path d="M107.31 304.50V307.10"/>
<path d="M119.45 304.50V307.10"/>
<path d="M112.65 295.34H115.25"/>
<path d="M112.65 314.34H115.25"/>
<path d="M112.11 309.84H121.56"/>
<path d="M118.27 305.47V316.67"/>
<path d="M112.11 308.54V311.14"/>
<path d="M121.56 308.54V311.14"/>
<path d="M116.97 305.47H119.57"/>
<path d="M116.97 316.67H119.57"/>
<path d="M105.43 310.17H127.82"/>
<path d="M118.39 295.86V316.72"/>
<path d="M105.43 308.87V311.47"/>
<path d="M127.82 308.87V311.47"/>
<path d="M117.09 295.86H119.69"/>
<path d="M117.09 316.72H119.69"/>
<path d="M112.50 313.60H125.55"/>
<path d="M121.26 308.36V322.50"/>
<path d="M112.50 312.30V314.90"/>
<path d="M125.55 312.30V314.90"/>
<path d="M119.96 308.36H122.56"/>
<path d="M119.96 322.50H122.56"/>
<path d="M107.83 312.52H126.34"/>
<path d="M121.31 305.15V324.31"/>
<path d="M107.83 311.22V313.82"/>
<path d="M126.34 311.22V313.82"/>
<path d="M120.01 305.15H122.61"/>
<path d="M120.01 324.31H122.61"/>
<path d="M105.69 313.42H118.93"/>
<path d="M113.98 304.62V316.90"/>
<path d="M105.69 312.12V314.72"/>
<path d="M118.93 312.12V314.72"/>
<path d="M112.68 304.62H115.28"/>
<path d="M112.68 316.90H115.28"/>
<path d="M110.28 312.74H120.33"/>
<path d="M114.66 300.26V326.48"/>
<path d="M110.28 311.44V314.04"/>
<path d="M120.33 311.44V314.04"/>
<path d="M113.36 300.26H115.96"/>
<path d="M113.36 326.48H115.96"/>
<path d="M110.56 312.68H123.63"/>
<path d="M116.63 306.04V319.98"/>
<path d="M110.56 311.38V313.98"/>
<path d="M123.63 311.38V313.98"/>
<path d="M115.33 306.04H117.93"/>
<path d="M115.33 319.98H117.93"/>
<path d="M111.78 312.78H121.21"/>
<path d="M117.08 301.80V322.36"/>
<path d="M111.78 311.48V314.08"/>
<path d="M121.21 311.48V314.08"/>
<path d="M115.78 301.80H118.38"/>
<path d="M115.78 322.36H118.38"/>
<path d="M106.70 315.01H114.25"/>
<path d="M110.61 305.76V324.45"/>
<path d="M106.70 313.71V316.31"/>
<path d="M114.25 313.71V316.31"/>
<path d="M109.31 305.76H111.91"/>
<path d="M109.31 324.45H111.91"/>
<path d="M105.01 315.46H122.74"/>
<path d="M109.89 305.44V327.76"/>
<path d="M105.01 314.16V316.76"/>
<path d="M122.74 314.16V316.76"/>
<path d="M108.59 305.44H111.19"/>
<path d="M108.59 327.76H111.19"/>
<path d="M109.35 316.31H120.58"/>
<path d="M115.54 308.86V319.05"/>
<path d="M109.35 315.01V317.61"/>
<path d="M120.58 315.01V317.61"/>
<path d="M114.24 308.86H116.84"/>
<path d="M114.24 319.05H116.84"/>
<path d="M108.79 315.50H123.06"/>
<path d="M114.93 302.24V324.02"/>
<path d="M108.79 314.20V316.80"/>
<path d="M123.06 314.20V316.80"/>
<path d="M113.63 302.24H116.23"/>
<path d="M113.63 324.02H116.23"/>
<path d="M97.80 324.83H106.69"/>
<path d="M104.15 314.89V333.23"/>
<path d="M97.80 323.53V326.13"/>
<path d="M106.69 323.53V326.13"/>
<path d="M102.85 314.89H105.45"/>
<path d="M102.85 333.23H105.45"/>
<path d="M93.27 324.77H112.36"/>
<path d="M104.48 312.79V334.61"/>
<path d="M93.27 323.47V326.07"/>
<path d="M112.36 323.47V326.07"/>
<path d="M103.18 312.79H105.78"/>
<path d="M103.18 334.61H105.78"/>
<path d="M104.84 323.79H117.62"/>
<path d="M109.38 315.01V332.00"/>
<path d="M104.84 322.49V325.09"/>
<path d="M117.62 322.49V325.09"/>
<path d="M108.08 315.01H110.68"/>
<path d="M108.08 332.00H110.68"/>
<path d="M95.23 323.79H121.84"/>
<path d="M109.32 310.70V336.47"/>
<path d="M95.23 322.49V325.09"/>
<path d="M121.84 322.49V325.09"/>
<path d="M108.02 310.70H110.62"/>
<path d="M108.02 336.47H110.62"/>
<path d="M105.19 323.73H115.91"/>
<path d="M113.01 318.08V329.76"/>
<path d="M105.19 322.43V325.03"/>
<path d="M115.91 322.43V325.03"/>
<path d="M111.71 318.08H114.31"/>
<path d="M111.71 329.76H114.31"/>
<path d="M102.51 323.71H123.82"/>
<path d="M113.80 316.15V338.32"/>
<path d="M102.51 322.41V325.01"/>
<path d="M123.82 322.41V325.01"/>
<path d="M112.50 316.15H115.10"/>
<path d="M112.50 338.32H115.10"/>
<path d="M90.78 325.77H104.30"/>
<path d="M98.20 318.60V331.27"/>
<path d="M90.78 324.47V327.07"/>
<path d="M104.30 324.47V327.07"/>
<path d="M96.90 318.60H99.50"/>
<path d="M96.90 331.27H99.50"/>
<path d="M85.70 325.89H109.17"/>
<path d="M97.74 309.29V330.51"/>
<path d="M85.70 324.59V327.19"/>
<path d="M109.17 324.59V327.19"/>
<path d="M96.44 309.29H99.04"/>
<path d="M96.44 330.51H99.04"/>
<path d="M95.69 325.12H105.28"/>
<path d="M100.25 321.72V329.24"/>
<path d="M95.69 323.82V326.42"/>
<path d="M105.28 323.82V326.42"/>
<path d="M98.95 321.72H101.55"/>
<path d="M98.95 329.24H101.55"/>
<path d="M93.85 325.68H113.81"/>
<path d="M100.96 314.26V335.60"/>
<path d="M93.85 324.38V326.98"/>
<path d="M113.81 324.38V326.98"/>
<path d="M99.66 314.26H102.26"/>
<path d="M99.66 335.60H102.26"/>
<path d="M100.98 327.01H117.38"/>
<path d="M110.82 317.64V330.30"/>
<path d="M100.98 325.71V328.31"/>
<path d="M117.38 325.71V328.31"/>
<path d="M109.52 317.64H112.12"/>
<path d="M109.52 330.30H112.12"/>
<path d="M105.42 326.69H123.44"/>
<path d="M110.30 319.94V336.26"/>
<path d="M105.42 325.39V327.99"/>
<path d="M123.44 325.39V327.99"/>
<path d="M109.00 319.94H111.60"/>
<path d="M109.00 336.26H111.60"/>
<path d="M98.50 328.02H108.49"/>
<path d="M105.63 317.54V333.78"/>
<path d="M98.50 326.72V329.32"/>
<path d="M108.49 326.72V329.32"/>
<path d="M104.33 317.54H106.93"/>
<path d="M104.33 333.78H106.93"/>
<path d="M96.91 328.16H112.14"/>
<path d="M105.34 315.38V338.74"/>
<path d="M96.91 326.86V329.46"/>
<path d="M112.14 326.86V329.46"/>
<path d="M104.04 315.38H106.64"/>
<path d="M104.04 338.74H106.64"/>
<path d="M88.79 329.91H96.27"/>
<path d="M93.69 324.92V332.98"/>
<path d="M88.79 328.61V331.21"/>
<path d="M96.27 328.61V331.21"/>
<path d="M92.39 324.92H94.99"/>
<path d="M92.39 332.98H94.99"/>
<path d="M85.94 330.13H107.62"/>
<path d="M94.69 316.14V335.12"/>
<path d="M85.94 328.83V331.43"/>
<path d="M107.62 328.83V331.43"/>
<path d="M93.39 316.14H95.99"/>
<path d="M93.39 335.12H95.99"/>
<path d="M97.17 329.29H108.83"/>
<path d="M100.47 322.84V335.50"/>
<path d="M97.17 327.99V330.59"/>
<path d="M108.83 327.99V330.59"/>
<path d="M99.17 322.84H101.77"/>
<path d="M99.17 335.50H101.77"/>
<path d="M90.25 329.98H113.81"/>
<path d="M100.47 316.30V339.60"/>
<path d="M90.25 328.68V331.28"/>
<path d="M113.81 328.68V331.28"/>
<path d="M99.17 316.30H101.77"/>
<path d="M99.17 339.60H101.77"/>
<path d="M100.92 329.56H111.29"/>
<path d="M108.04 321.56V335.62"/>
<path d="M100.92 328.26V330.86"/>
<path d="M111.29 328.26V330.86"/>
<path d="M106.74 321.56H109.34"/>
<path d="M106.74 335.62H109.34"/>
<path d="M98.05 329.81H113.58"/>
<path d="M108.35 319.53V341.66"/>
<path d="M98.05 328.51V331.11"/>
<path d="M113.58 328.51V331.11"/>
<path d="M107.05 319.53H109.65"/>
<path d="M107.05 341.66H109.65"/>
<path d="M94.56 333.54H106.87"/>
<path d="M101.60 324.23V340.21"/>
<path d="M94.56 332.24V334.84"/>
<path d="M106.87 332.24V334.84"/>
<path d="M100.30 324.23H102.90"/>
<path d="M100.30 340.21H102.90"/>
<path d="M88.64 333.15H107.78"/>
<path d="M101.34 326.82V347.63"/>
<path d="M88.64 331.85V334.45"/>
<path d="M107.78 331.85V334.45"/>
<path d="M100.04 326.82H102.64"/>
<path d="M100.04 347.63H102.64"/>
<path d="M91.68 333.76H101.42"/>
<path d="M97.11 325.18V340.69"/>
<path d="M91.68 332.46V335.06"/>
<path d="M101.42 332.46V335.06"/>
<path d="M95.81 325.18H98.41"/>
<path d="M95.81 340.69H98.41"/>
<path d="M84.56 334.05H103.46"/>
<path d="M97.50 326.04V349.54"/>
<path d="M84.56 332.75V335.35"/>
<path d="M103.46 332.75V335.35"/>
<path d="M96.20 326.04H98.80"/>
<path d="M96.20 349.54H98.80"/>
<path d="M99.14 334.22H105.18"/>
<path d="M102.25 328.94V340.15"/>
<path d="M99.14 332.92V335.52"/>
<path d="M105.18 332.92V335.52"/>
<path d="M100.95 328.94H103.55"/>
<path d="M100.95 340.15H103.55"/>
<path d="M91.56 334.86H106.95"/>
<path d="M102.16 328.83V346.98"/>
<path d="M91.56 333.56V336.16"/>
<path d="M106.95 333.56V336.16"/>
<path d="M100.86 328.83H103.46"/>
<path d="M100.86 346.98H103.46"/>
<path d="M101.99 338.01H113.33"/>
<path d="M107.59 333.17V343.39"/>
<path d="M101.99 336.71V339.31"/>
<path d="M113.33 336.71V339.31"/>
<path d="M106.29 333.17H108.89"/>
<path d="M106.29 343.39H108.89"/>
<path d="M102.23 337.26H112.94"/>
<path d="M107.62 322.14V348.89"/>
<path d="M102.23 335.96V338.56"/>
<path d="M112.94 335.96V338.56"/>
<path d="M106.32 322.14H108.92"/>
<path d="M106.32 348.89H108.92"/>
<path d="M91.19 339.29H101.47"/>
<path d="M97.18 329.54V344.87"/>
<path d="M91.19 337.99V340.59"/>
<path d="M101.47 337.99V340.59"/>
<path d="M95.88 329.54H98.48"/>
<path d="M95.88 344.87H98.48"/>
<path d="M88.64 338.54H106.65"/>
<path d="M96.91 324.16V353.61"/>
<path d="M88.64 337.24V339.84"/>
<path d="M106.65 337.24V339.84"/>
<path d="M95.61 324.16H98.21"/>
<path d="M95.61 353.61H98.21"/>
<path d="M95.79 339.88H107.82"/>
<path d="M99.38 336.09V343.36"/>
<path d="M95.79 338.58V341.18"/>
<path d="M107.82 338.58V341.18"/>
<path d="M98.08 336.09H100.68"/>
<path d="M98.08 343.36H100.68"/>
<path d="M86.53 340.09H106.16"/>
<path d="M98.96 325.29V345.55"/>
<path d="M86.53 338.79V341.39"/>
<path d="M106.16 338.79V341.39"/>
<path d="M97.66 325.29H100.26"/>
<path d="M97.66 345.55H100.26"/>
<path d="M88.12 343.97H96.32"/>
<path d="M91.64 334.76V352.11"/>
<path d="M88.12 342.67V345.27"/>
<path d="M96.32 342.67V345.27"/>
<path d="M90.34 334.76H92.94"/>
<path d="M90.34 352.11H92.94"/>
<path d="M83.35 344.48H103.92"/>
<path d="M92.15 334.69V350.49"/>
<path d="M83.35 343.18V345.78"/>
<path d="M103.92 343.18V345.78"/>
<path d="M90.85 334.69H93.45"/>
<path d="M90.85 350.49H93.45"/>
<path d="M86.43 344.17H105.26"/>
<path d="M96.26 333.39V350.38"/>
<path d="M86.43 342.87V345.47"/>
<path d="M105.26 342.87V345.47"/>
<path d="M94.96 333.39H97.56"/>
<path d="M94.96 350.38H97.56"/>
<path d="M87.26 344.23H103.96"/>
<path d="M95.60 327.18V359.27"/>
<path d="M87.26 342.93V345.53"/>
<path d="M103.96 342.93V345.53"/>
<path d="M94.30 327.18H96.90"/>
<path d="M94.30 359.27H96.90"/>
<path d="M116.36 290.38H125.61"/>
<path d="M121.23 284.80V295.40"/>
<path d="M116.36 289.08V291.68"/>
<path d="M125.61 289.08V291.68"/>
<path d="M119.93 284.80H122.53"/>
<path d="M119.93 295.40H122.53"/>
<path d="M109.24 290.61H129.68"/>
<path d="M121.21 277.01V300.24"/>
<path d="M109.24 289.31V291.91"/>
<path d="M129.68 289.31V291.91"/>
<path d="M119.91 277.01H122.51"/>
<path d="M119.91 300.24H122.51"/>
<path d="M113.43 292.98H125.55"/>
<path d="M121.65 290.07V298.83"/>
<path d="M113.43 291.68V294.28"/>
<path d="M125.55 291.68V294.28"/>
<path d="M120.35 290.07H122.95"/>
<path d="M120.35 298.83H122.95"/>
<path d="M107.99 293.25H131.12"/>
<path d="M121.66 280.00V297.89"/>
<path d="M107.99 291.95V294.55"/>
<path d="M131.12 291.95V294.55"/>
<path d="M120.36 280.00H122.96"/>
<path d="M120.36 297.89H122.96"/>
<path d="M122.56 290.96H128.33"/>
<path d="M125.60 282.94V299.30"/>
<path d="M122.56 289.66V292.26"/>
<path d="M128.33 289.66V292.26"/>
<path d="M124.30 282.94H126.90"/>
<path d="M124.30 299.30H126.90"/>
<path d="M120.33 291.12H136.08"/>
<path d="M125.76 279.58V297.57"/>
<path d="M120.33 289.82V292.42"/>
<path d="M136.08 289.82V292.42"/>
<path d="M124.46 279.58H127.06"/>
<path d="M124.46 297.57H127.06"/>
<path d="M123.07 288.51H135.69"/>
<path d="M128.96 282.94V293.20"/>
<path d="M123.07 287.21V289.81"/>
<path d="M135.69 287.21V289.81"/>
<path d="M127.66 282.94H130.26"/>
<path d="M127.66 293.20H130.26"/>
<path d="M119.96 288.19H137.33"/>
<path d="M128.90 275.86V299.27"/>
<path d="M119.96 286.89V289.49"/>
<path d="M137.33 286.89V289.49"/>
<path d="M127.60 275.86H130.20"/>
<path d="M127.60 299.27H130.20"/>
<path d="M121.53 291.07H135.55"/>
<path d="M129.40 282.21V298.80"/>
<path d="M121.53 289.77V292.37"/>
<path d="M135.55 289.77V292.37"/>
<path d="M128.10 282.21H130.70"/>
<path d="M128.10 298.80H130.70"/>
<path d="M115.78 290.51H138.73"/>
<path d="M129.36 280.34V301.61"/>
<path d="M115.78 289.21V291.81"/>
<path d="M138.73 289.21V291.81"/>
<path d="M128.06 280.34H130.66"/>
<path d="M128.06 301.61H130.66"/>
<path d="M118.46 302.70H126.89"/>
<path d="M123.75 294.56V311.74"/>
<path d="M118.46 301.40V304.00"/>
<path d="M126.89 301.40V304.00"/>
<path d="M122.45 294.56H125.05"/>
<path d="M122.45 311.74H125.05"/>
<path d="M117.26 302.87H130.88"/>
<path d="M123.37 295.17V316.72"/>
<path d="M117.26 301.57V304.17"/>
<path d="M130.88 301.57V304.17"/>
<path d="M122.07 295.17H124.67"/>
<path d="M122.07 316.72H124.67"/>
<path d="M110.07 305.15H119.53"/>
<path d="M113.37 296.70V308.89"/>
<path d="M110.07 303.85V306.45"/>
<path d="M119.53 303.85V306.45"/>
<path d="M112.07 296.70H114.67"/>
<path d="M112.07 308.89H114.67"/>
<path d="M103.49 304.86H125.53"/>
<path d="M113.52 299.97V310.04"/>
<path d="M103.49 303.56V306.16"/>
<path d="M125.53 303.56V306.16"/>
<path d="M112.22 299.97H114.82"/>
<path d="M112.22 310.04H114.82"/>
<path d="M106.76 308.64H117.58"/>
<path d="M110.92 301.41V312.72"/>
<path d="M106.76 307.34V309.94"/>
<path d="M117.58 307.34V309.94"/>
<path d="M109.62 301.41H112.22"/>
<path d="M109.62 312.72H112.22"/>
<path d="M105.77 308.88H122.44"/>
<path d="M111.68 300.79V318.66"/>
<path d="M105.77 307.58V310.18"/>
<path d="M122.44 307.58V310.18"/>
<path d="M110.38 300.79H112.98"/>
<path d="M110.38 318.66H112.98"/>
<path d="M114.23 309.45H126.24"/>
<path d="M118.56 299.86V314.32"/>
<path d="M114.23 308.15V310.75"/>
<path d="M126.24 308.15V310.75"/>
<path d="M117.26 299.86H119.86"/>
<path d="M117.26 314.32H119.86"/>
<path d="M109.75 308.76H124.63"/>
<path d="M118.86 303.66V322.67"/>
<path d="M109.75 307.46V310.06"/>
<path d="M124.63 307.46V310.06"/>
<path d="M117.56 303.66H120.16"/>
<path d="M117.56 322.67H120.16"/>
<path d="M100.17 308.59H111.73"/>
<path d="M106.29 303.72V317.81"/>
<path d="M100.17 307.29V309.89"/>
<path d="M111.73 307.29V309.89"/>
<path d="M104.99 303.72H107.59"/>
<path d="M104.99 317.81H107.59"/>
<path d="M102.11 309.03H114.46"/>
<path d="M106.36 300.27V321.38"/>
<path d="M102.11 307.73V310.33"/>
<path d="M114.46 307.73V310.33"/>
<path d="M105.06 300.27H107.66"/>
<path d="M105.06 321.38H107.66"/>
<path d="M142.22 269.62H148.91"/>
<path d="M145.74 264.57V273.81"/>
<path d="M142.22 268.32V270.92"/>
<path d="M148.91 268.32V270.92"/>
<path d="M144.44 264.57H147.04"/>
<path d="M144.44 273.81H147.04"/>
<path d="M134.51 269.92H157.42"/>
<path d="M144.88 262.59V279.27"/>
<path d="M134.51 268.62V271.22"/>
<path d="M157.42 268.62V271.22"/>
<path d="M143.58 262.59H146.18"/>
<path d="M143.58 279.27H146.18"/>
<path d="M62.00 393.40H170.40"/>
<path d="M64.60 388.10H82.00"/>
<path d="M82.00 386.80V389.40"/>
<path d="M128.10 247.00V288.00"/>
<path d="M116.40 272.60H138.20"/>
<path d="M138.20 271.30V273.90"/>
<path d="M116.60 272.60V290.00"/>
<path d="M115.30 290.00H117.90"/>
<path d="M128.10 290.30H170.40"/>
<path d="M133.60 265.30H140.90"/>
<path d="M133.60 264.00V266.60"/>
<path d="M126.00 303.10H138.10"/>
<path d="M138.10 301.80V304.40"/>
</g>
<circle cx="61.40" cy="392.60" r="2.15" stroke="#1f77b4" stroke-width="0.95" fill="#fff"/>
<circle cx="64.90" cy="392.60" r="2.15" stroke="#1f77b4" stroke-width="0.95" fill="#fff"/>
<circle cx="64.60" cy="388.10" r="2.15" stroke="#1f77b4" stroke-width="0.95" fill="#fff"/>
<circle cx="69.70" cy="382.80" r="2.15" stroke="#1f77b4" stroke-width="0.95" fill="#fff"/>
<circle cx="71.10" cy="378.20" r="2.15" stroke="#1f77b4" stroke-width="0.95" fill="#fff"/>
<circle cx="74.60" cy="378.60" r="2.15" stroke="#1f77b4" stroke-width="0.95" fill="#fff"/>
<circle cx="76.30" cy="374.60" r="2.15" stroke="#1f77b4" stroke-width="0.95" fill="#fff"/>
<circle cx="79.10" cy="372.90" r="2.15" stroke="#1f77b4" stroke-width="0.95" fill="#fff"/>
<circle cx="80.30" cy="372.30" r="2.15" stroke="#1f77b4" stroke-width="0.95" fill="#fff"/>
<circle cx="75.70" cy="370.60" r="2.15" stroke="#1f77b4" stroke-width="0.95" fill="#fff"/>
<circle cx="78.00" cy="370.60" r="2.15" stroke="#1f77b4" stroke-width="0.95" fill="#fff"/>
<circle cx="76.90" cy="373.10" r="2.15" stroke="#1f77b4" stroke-width="0.95" fill="#fff"/>
<circle cx="75.10" cy="368.00" r="2.15" stroke="#1f77b4" stroke-width="0.95" fill="#fff"/>
<circle cx="78.00" cy="367.40" r="2.15" stroke="#1f77b4" stroke-width="0.95" fill="#fff"/>
<circle cx="80.90" cy="368.00" r="2.15" stroke="#1f77b4" stroke-width="0.95" fill="#fff"/>
<circle cx="78.00" cy="364.60" r="2.15" stroke="#1f77b4" stroke-width="0.95" fill="#fff"/>
<circle cx="82.60" cy="364.00" r="2.15" stroke="#1f77b4" stroke-width="0.95" fill="#fff"/>
<circle cx="86.60" cy="364.00" r="2.15" stroke="#1f77b4" stroke-width="0.95" fill="#fff"/>
<circle cx="84.90" cy="361.10" r="2.15" stroke="#1f77b4" stroke-width="0.95" fill="#fff"/>
<circle cx="88.30" cy="355.40" r="2.15" stroke="#1f77b4" stroke-width="0.95" fill="#fff"/>
<circle cx="87.10" cy="353.10" r="2.15" stroke="#1f77b4" stroke-width="0.95" fill="#fff"/>
<circle cx="90.60" cy="352.60" r="2.15" stroke="#1f77b4" stroke-width="0.95" fill="#fff"/>
<circle cx="94.00" cy="352.30" r="2.15" stroke="#1f77b4" stroke-width="0.95" fill="#fff"/>
<circle cx="84.30" cy="349.70" r="2.15" stroke="#1f77b4" stroke-width="0.95" fill="#fff"/>
<circle cx="88.90" cy="349.10" r="2.15" stroke="#1f77b4" stroke-width="0.95" fill="#fff"/>
<circle cx="87.10" cy="347.40" r="2.15" stroke="#1f77b4" stroke-width="0.95" fill="#fff"/>
<circle cx="91.10" cy="345.70" r="2.15" stroke="#1f77b4" stroke-width="0.95" fill="#fff"/>
<circle cx="95.10" cy="348.00" r="2.15" stroke="#1f77b4" stroke-width="0.95" fill="#fff"/>
<circle cx="96.30" cy="345.10" r="2.15" stroke="#1f77b4" stroke-width="0.95" fill="#fff"/>
<circle cx="99.10" cy="340.00" r="2.15" stroke="#1f77b4" stroke-width="0.95" fill="#fff"/>
<circle cx="105.60" cy="309.80" r="2.15" stroke="#1f77b4" stroke-width="0.95" fill="#fff"/>
<circle cx="111.30" cy="309.60" r="2.15" stroke="#1f77b4" stroke-width="0.95" fill="#fff"/>
<circle cx="114.10" cy="305.90" r="2.15" stroke="#1f77b4" stroke-width="0.95" fill="#fff"/>
<circle cx="118.10" cy="309.80" r="2.15" stroke="#1f77b4" stroke-width="0.95" fill="#fff"/>
<circle cx="121.60" cy="313.00" r="2.15" stroke="#1f77b4" stroke-width="0.95" fill="#fff"/>
<circle cx="114.10" cy="313.20" r="2.15" stroke="#1f77b4" stroke-width="0.95" fill="#fff"/>
<circle cx="117.00" cy="313.20" r="2.15" stroke="#1f77b4" stroke-width="0.95" fill="#fff"/>
<circle cx="110.10" cy="315.50" r="2.15" stroke="#1f77b4" stroke-width="0.95" fill="#fff"/>
<circle cx="115.30" cy="315.90" r="2.15" stroke="#1f77b4" stroke-width="0.95" fill="#fff"/>
<circle cx="103.90" cy="324.40" r="2.15" stroke="#1f77b4" stroke-width="0.95" fill="#fff"/>
<circle cx="109.00" cy="323.90" r="2.15" stroke="#1f77b4" stroke-width="0.95" fill="#fff"/>
<circle cx="113.60" cy="323.90" r="2.15" stroke="#1f77b4" stroke-width="0.95" fill="#fff"/>
<circle cx="97.60" cy="325.60" r="2.15" stroke="#1f77b4" stroke-width="0.95" fill="#fff"/>
<circle cx="100.40" cy="325.60" r="2.15" stroke="#1f77b4" stroke-width="0.95" fill="#fff"/>
<circle cx="110.70" cy="326.70" r="2.15" stroke="#1f77b4" stroke-width="0.95" fill="#fff"/>
<circle cx="105.60" cy="327.90" r="2.15" stroke="#1f77b4" stroke-width="0.95" fill="#fff"/>
<circle cx="94.10" cy="329.60" r="2.15" stroke="#1f77b4" stroke-width="0.95" fill="#fff"/>
<circle cx="99.90" cy="329.60" r="2.15" stroke="#1f77b4" stroke-width="0.95" fill="#fff"/>
<circle cx="108.40" cy="330.10" r="2.15" stroke="#1f77b4" stroke-width="0.95" fill="#fff"/>
<circle cx="101.00" cy="333.00" r="2.15" stroke="#1f77b4" stroke-width="0.95" fill="#fff"/>
<circle cx="97.00" cy="333.60" r="2.15" stroke="#1f77b4" stroke-width="0.95" fill="#fff"/>
<circle cx="102.10" cy="334.70" r="2.15" stroke="#1f77b4" stroke-width="0.95" fill="#fff"/>
<circle cx="107.30" cy="337.60" r="2.15" stroke="#1f77b4" stroke-width="0.95" fill="#fff"/>
<circle cx="97.00" cy="338.70" r="2.15" stroke="#1f77b4" stroke-width="0.95" fill="#fff"/>
<circle cx="99.30" cy="339.90" r="2.15" stroke="#1f77b4" stroke-width="0.95" fill="#fff"/>
<circle cx="91.90" cy="344.40" r="2.15" stroke="#1f77b4" stroke-width="0.95" fill="#fff"/>
<circle cx="95.90" cy="344.40" r="2.15" stroke="#1f77b4" stroke-width="0.95" fill="#fff"/>
<circle cx="116.40" cy="272.50" r="2.15" stroke="#1f77b4" stroke-width="0.95" fill="#fff"/>
<circle cx="121.60" cy="290.30" r="2.15" stroke="#1f77b4" stroke-width="0.95" fill="#fff"/>
<circle cx="121.60" cy="292.90" r="2.15" stroke="#1f77b4" stroke-width="0.95" fill="#fff"/>
<circle cx="126.10" cy="290.80" r="2.15" stroke="#1f77b4" stroke-width="0.95" fill="#fff"/>
<circle cx="128.40" cy="288.30" r="2.15" stroke="#1f77b4" stroke-width="0.95" fill="#fff"/>
<circle cx="129.00" cy="290.60" r="2.15" stroke="#1f77b4" stroke-width="0.95" fill="#fff"/>
<circle cx="123.90" cy="303.10" r="2.15" stroke="#1f77b4" stroke-width="0.95" fill="#fff"/>
<circle cx="113.90" cy="305.20" r="2.15" stroke="#1f77b4" stroke-width="0.95" fill="#fff"/>
<circle cx="111.30" cy="308.90" r="2.15" stroke="#1f77b4" stroke-width="0.95" fill="#fff"/>
<circle cx="118.50" cy="308.90" r="2.15" stroke="#1f77b4" stroke-width="0.95" fill="#fff"/>
<circle cx="106.10" cy="308.90" r="2.15" stroke="#1f77b4" stroke-width="0.95" fill="#fff"/>
<circle cx="140.80" cy="265.60" r="2.15" stroke="#1f77b4" stroke-width="0.95" fill="#fff"/>
<circle cx="145.30" cy="269.60" r="2.15" stroke="#1f77b4" stroke-width="0.95" fill="#fff"/>
<path d="M180.50 396.62L275.13 268.36M283.67 256.77L290.88 247.00" stroke="#8a8a8a" stroke-width="0.60" fill="none"/>
<path d="M180.50 406.94L283.03 267.97M291.57 256.38L298.49 247.00" stroke="#8a8a8a" stroke-width="0.60" fill="none"/>
<path d="M180.50 412.10L278.33 279.49M288.07 266.29L302.30 247.00" stroke="#8a8a8a" stroke-width="0.60" fill="none"/>
<text x="281.32" y="263.51" font-size="6.80" text-anchor="middle" fill="#555" stroke="#555" stroke-width="0.10" textLength="11.80" lengthAdjust="spacingAndGlyphs" transform="rotate(-53.58 281.32 263.51)">+0.3</text>
<text x="289.22" y="263.81" font-size="6.80" text-anchor="middle" fill="#555" stroke="#555" stroke-width="0.10" textLength="11.80" lengthAdjust="spacingAndGlyphs" transform="rotate(-53.58 289.22 263.81)">+0.1</text>
<text x="285.12" y="274.81" font-size="6.80" text-anchor="middle" fill="#555" stroke="#555" stroke-width="0.10" textLength="14.00" lengthAdjust="spacingAndGlyphs" transform="rotate(-53.58 285.12 274.81)">1-to-1</text>
<g stroke="#7a7a7a" stroke-width="0.80" stroke-opacity="0.22" fill="none">
<path d="M193.17 389.22H205.85"/>
<path d="M196.50 377.56V399.62"/>
<path d="M193.17 387.92V390.52"/>
<path d="M205.85 387.92V390.52"/>
<path d="M195.20 377.56H197.80"/>
<path d="M195.20 399.62H197.80"/>
<path d="M182.75 389.60H203.48"/>
<path d="M197.55 376.77V401.12"/>
<path d="M182.75 388.30V390.90"/>
<path d="M203.48 388.30V390.90"/>
<path d="M196.25 376.77H198.85"/>
<path d="M196.25 401.12H198.85"/>
<path d="M189.84 384.11H205.66"/>
<path d="M200.40 373.13V390.92"/>
<path d="M189.84 382.81V385.41"/>
<path d="M205.66 382.81V385.41"/>
<path d="M199.10 373.13H201.70"/>
<path d="M199.10 390.92H201.70"/>
<path d="M183.45 385.00H206.65"/>
<path d="M199.49 371.43V397.10"/>
<path d="M183.45 383.70V386.30"/>
<path d="M206.65 383.70V386.30"/>
<path d="M198.19 371.43H200.79"/>
<path d="M198.19 397.10H200.79"/>
<path d="M193.03 385.76H204.29"/>
<path d="M198.96 381.44V391.64"/>
<path d="M193.03 384.46V387.06"/>
<path d="M204.29 384.46V387.06"/>
<path d="M197.66 381.44H200.26"/>
<path d="M197.66 391.64H200.26"/>
<path d="M189.00 386.06H211.78"/>
<path d="M198.95 378.77V396.47"/>
<path d="M189.00 384.76V387.36"/>
<path d="M211.78 384.76V387.36"/>
<path d="M197.65 378.77H200.25"/>
<path d="M197.65 396.47H200.25"/>
<path d="M194.38 378.98H212.38"/>
<path d="M204.55 375.33V385.36"/>
<path d="M194.38 377.68V380.28"/>
<path d="M212.38 377.68V380.28"/>
<path d="M203.25 375.33H205.85"/>
<path d="M203.25 385.36H205.85"/>
<path d="M192.24 378.95H214.61"/>
<path d="M204.66 373.13V396.88"/>
<path d="M192.24 377.65V380.25"/>
<path d="M214.61 377.65V380.25"/>
<path d="M203.36 373.13H205.96"/>
<path d="M203.36 396.88H205.96"/>
<path d="M197.75 376.20H211.10"/>
<path d="M206.06 369.26V383.88"/>
<path d="M197.75 374.90V377.50"/>
<path d="M211.10 374.90V377.50"/>
<path d="M204.76 369.26H207.36"/>
<path d="M204.76 383.88H207.36"/>
<path d="M196.45 376.20H218.85"/>
<path d="M206.58 366.97V383.86"/>
<path d="M196.45 374.90V377.50"/>
<path d="M218.85 374.90V377.50"/>
<path d="M205.28 366.97H207.88"/>
<path d="M205.28 383.86H207.88"/>
<path d="M198.13 373.31H216.12"/>
<path d="M209.09 363.26V379.22"/>
<path d="M198.13 372.01V374.61"/>
<path d="M216.12 372.01V374.61"/>
<path d="M207.79 363.26H210.39"/>
<path d="M207.79 379.22H210.39"/>
<path d="M201.46 373.68H213.96"/>
<path d="M208.32 358.65V387.74"/>
<path d="M201.46 372.38V374.98"/>
<path d="M213.96 372.38V374.98"/>
<path d="M207.02 358.65H209.62"/>
<path d="M207.02 387.74H209.62"/>
<path d="M199.78 371.25H217.00"/>
<path d="M209.79 366.97V376.26"/>
<path d="M199.78 369.95V372.55"/>
<path d="M217.00 369.95V372.55"/>
<path d="M208.49 366.97H211.09"/>
<path d="M208.49 376.26H211.09"/>
<path d="M200.04 371.88H215.58"/>
<path d="M210.21 353.56V382.30"/>
<path d="M200.04 370.58V373.18"/>
<path d="M215.58 370.58V373.18"/>
<path d="M208.91 353.56H211.51"/>
<path d="M208.91 382.30H211.51"/>
<path d="M200.32 368.82H218.53"/>
<path d="M209.69 361.92V374.65"/>
<path d="M200.32 367.52V370.12"/>
<path d="M218.53 367.52V370.12"/>
<path d="M208.39 361.92H210.99"/>
<path d="M208.39 374.65H210.99"/>
<path d="M199.96 369.53H222.39"/>
<path d="M209.99 350.49V384.43"/>
<path d="M199.96 368.23V370.83"/>
<path d="M222.39 368.23V370.83"/>
<path d="M208.69 350.49H211.29"/>
<path d="M208.69 384.43H211.29"/>
<path d="M207.87 366.25H216.32"/>
<path d="M211.13 359.80V374.61"/>
<path d="M207.87 364.95V367.55"/>
<path d="M216.32 364.95V367.55"/>
<path d="M209.83 359.80H212.43"/>
<path d="M209.83 374.61H212.43"/>
<path d="M199.90 366.72H224.47"/>
<path d="M211.19 349.99V379.28"/>
<path d="M199.90 365.42V368.02"/>
<path d="M224.47 365.42V368.02"/>
<path d="M209.89 349.99H212.49"/>
<path d="M209.89 379.28H212.49"/>
<path d="M200.87 363.56H217.88"/>
<path d="M211.17 357.07V370.63"/>
<path d="M200.87 362.26V364.86"/>
<path d="M217.88 362.26V364.86"/>
<path d="M209.87 357.07H212.47"/>
<path d="M209.87 370.63H212.47"/>
<path d="M194.18 363.83H221.38"/>
<path d="M211.24 348.74V379.03"/>
<path d="M194.18 362.53V365.13"/>
<path d="M221.38 362.53V365.13"/>
<path d="M209.94 348.74H212.54"/>
<path d="M209.94 379.03H212.54"/>
<path d="M206.43 366.64H218.82"/>
<path d="M214.59 362.48V371.71"/>
<path d="M206.43 365.34V367.94"/>
<path d="M218.82 365.34V367.94"/>
<path d="M213.29 362.48H215.89"/>
<path d="M213.29 371.71H215.89"/>
<path d="M205.00 366.97H228.90"/>
<path d="M214.05 356.57V377.68"/>
<path d="M205.00 365.67V368.27"/>
<path d="M228.90 365.67V368.27"/>
<path d="M212.75 356.57H215.35"/>
<path d="M212.75 377.68H215.35"/>
<path d="M211.01 363.22H224.45"/>
<path d="M215.17 355.05V370.78"/>
<path d="M211.01 361.92V364.52"/>
<path d="M224.45 361.92V364.52"/>
<path d="M213.87 355.05H216.47"/>
<path d="M213.87 370.78H216.47"/>
<path d="M198.53 363.89H230.07"/>
<path d="M214.65 347.40V376.22"/>
<path d="M198.53 362.59V365.19"/>
<path d="M230.07 362.59V365.19"/>
<path d="M213.35 347.40H215.95"/>
<path d="M213.35 376.22H215.95"/>
<path d="M212.43 361.92H226.99"/>
<path d="M217.80 356.44V369.56"/>
<path d="M212.43 360.62V363.22"/>
<path d="M226.99 360.62V363.22"/>
<path d="M216.50 356.44H219.10"/>
<path d="M216.50 369.56H219.10"/>
<path d="M206.36 362.83H223.24"/>
<path d="M217.98 357.00V369.94"/>
<path d="M206.36 361.53V364.13"/>
<path d="M223.24 361.53V364.13"/>
<path d="M216.68 357.00H219.28"/>
<path d="M216.68 369.94H219.28"/>
<path d="M208.68 364.81H222.06"/>
<path d="M217.06 355.48V373.82"/>
<path d="M208.68 363.51V366.11"/>
<path d="M222.06 363.51V366.11"/>
<path d="M215.76 355.48H218.36"/>
<path d="M215.76 373.82H218.36"/>
<path d="M201.90 364.56H221.40"/>
<path d="M216.77 356.42V375.29"/>
<path d="M201.90 363.26V365.86"/>
<path d="M221.40 363.26V365.86"/>
<path d="M215.47 356.42H218.07"/>
<path d="M215.47 375.29H218.07"/>
<path d="M231.45 323.20H241.73"/>
<path d="M238.18 316.18V327.77"/>
<path d="M231.45 321.90V324.50"/>
<path d="M241.73 321.90V324.50"/>
<path d="M236.88 316.18H239.48"/>
<path d="M236.88 327.77H239.48"/>
<path d="M227.35 323.52H242.93"/>
<path d="M238.65 310.74V329.43"/>
<path d="M227.35 322.22V324.82"/>
<path d="M242.93 322.22V324.82"/>
<path d="M237.35 310.74H239.95"/>
<path d="M237.35 329.43H239.95"/>
<path d="M237.55 325.40H248.69"/>
<path d="M243.61 317.53V333.02"/>
<path d="M237.55 324.10V326.70"/>
<path d="M248.69 324.10V326.70"/>
<path d="M242.31 317.53H244.91"/>
<path d="M242.31 333.02H244.91"/>
<path d="M233.52 325.02H256.89"/>
<path d="M243.19 310.16V338.72"/>
<path d="M233.52 323.72V326.32"/>
<path d="M256.89 323.72V326.32"/>
<path d="M241.89 310.16H244.49"/>
<path d="M241.89 338.72H244.49"/>
<path d="M229.55 326.79H244.59"/>
<path d="M236.32 319.65V333.26"/>
<path d="M229.55 325.49V328.09"/>
<path d="M244.59 325.49V328.09"/>
<path d="M235.02 319.65H237.62"/>
<path d="M235.02 333.26H237.62"/>
<path d="M228.78 326.42H241.16"/>
<path d="M236.68 312.85V340.66"/>
<path d="M228.78 325.12V327.72"/>
<path d="M241.16 325.12V327.72"/>
<path d="M235.38 312.85H237.98"/>
<path d="M235.38 340.66H237.98"/>
<path d="M220.96 329.64H233.62"/>
<path d="M229.15 321.89V332.91"/>
<path d="M220.96 328.34V330.94"/>
<path d="M233.62 328.34V330.94"/>
<path d="M227.85 321.89H230.45"/>
<path d="M227.85 332.91H230.45"/>
<path d="M219.63 329.39H237.58"/>
<path d="M229.63 323.88V341.52"/>
<path d="M219.63 328.09V330.69"/>
<path d="M237.58 328.09V330.69"/>
<path d="M228.33 323.88H230.93"/>
<path d="M228.33 341.52H230.93"/>
<path d="M230.21 330.86H240.26"/>
<path d="M235.19 325.93V334.13"/>
<path d="M230.21 329.56V332.16"/>
<path d="M240.26 329.56V332.16"/>
<path d="M233.89 325.93H236.49"/>
<path d="M233.89 334.13H236.49"/>
<path d="M222.53 330.60H247.02"/>
<path d="M234.37 320.56V343.98"/>
<path d="M222.53 329.30V331.90"/>
<path d="M247.02 329.30V331.90"/>
<path d="M233.07 320.56H235.67"/>
<path d="M233.07 343.98H235.67"/>
<path d="M230.81 329.15H245.98"/>
<path d="M237.65 325.32V337.60"/>
<path d="M230.81 327.85V330.45"/>
<path d="M245.98 327.85V330.45"/>
<path d="M236.35 325.32H238.95"/>
<path d="M236.35 337.60H238.95"/>
<path d="M222.95 328.58H241.88"/>
<path d="M237.89 320.74V336.31"/>
<path d="M222.95 327.28V329.88"/>
<path d="M241.88 327.28V329.88"/>
<path d="M236.59 320.74H239.19"/>
<path d="M236.59 336.31H239.19"/>
<path d="M232.50 328.56H249.47"/>
<path d="M241.70 322.37V333.88"/>
<path d="M232.50 327.26V329.86"/>
<path d="M249.47 327.26V329.86"/>
<path d="M240.40 322.37H243.00"/>
<path d="M240.40 333.88H243.00"/>
<path d="M237.35 329.67H255.04"/>
<path d="M242.12 321.06V339.61"/>
<path d="M237.35 328.37V330.97"/>
<path d="M255.04 328.37V330.97"/>
<path d="M240.82 321.06H243.42"/>
<path d="M240.82 339.61H243.42"/>
<path d="M223.83 333.13H233.96"/>
<path d="M230.08 327.68V342.67"/>
<path d="M223.83 331.83V334.43"/>
<path d="M233.96 331.83V334.43"/>
<path d="M228.78 327.68H231.38"/>
<path d="M228.78 342.67H231.38"/>
<path d="M216.17 334.09H237.67"/>
<path d="M230.06 323.33V340.51"/>
<path d="M216.17 332.79V335.39"/>
<path d="M237.67 332.79V335.39"/>
<path d="M228.76 323.33H231.36"/>
<path d="M228.76 340.51H231.36"/>
<path d="M229.27 333.83H240.25"/>
<path d="M233.56 329.19V343.07"/>
<path d="M229.27 332.53V335.13"/>
<path d="M240.25 332.53V335.13"/>
<path d="M232.26 329.19H234.86"/>
<path d="M232.26 343.07H234.86"/>
<path d="M221.69 333.86H241.57"/>
<path d="M234.36 317.77V348.14"/>
<path d="M221.69 332.56V335.16"/>
<path d="M241.57 332.56V335.16"/>
<path d="M233.06 317.77H235.66"/>
<path d="M233.06 348.14H235.66"/>
<path d="M231.06 334.37H247.68"/>
<path d="M238.97 327.69V337.76"/>
<path d="M231.06 333.07V335.67"/>
<path d="M247.68 333.07V335.67"/>
<path d="M237.67 327.69H240.27"/>
<path d="M237.67 337.76H240.27"/>
<path d="M226.99 334.95H245.54"/>
<path d="M239.50 327.75V342.10"/>
<path d="M226.99 333.65V336.25"/>
<path d="M245.54 333.65V336.25"/>
<path d="M238.20 327.75H240.80"/>
<path d="M238.20 342.10H240.80"/>
<path d="M224.81 335.76H237.30"/>
<path d="M230.37 325.50V342.92"/>
<path d="M224.81 334.46V337.06"/>
<path d="M237.30 334.46V337.06"/>
<path d="M229.07 325.50H231.67"/>
<path d="M229.07 342.92H231.67"/>
<path d="M215.20 336.58H241.07"/>
<path d="M230.21 328.16V348.34"/>
<path d="M215.20 335.28V337.88"/>
<path d="M241.07 335.28V337.88"/>
<path d="M228.91 328.16H231.51"/>
<path d="M228.91 348.34H231.51"/>
<path d="M227.01 338.04H239.20"/>
<path d="M233.12 330.58V341.23"/>
<path d="M227.01 336.74V339.34"/>
<path d="M239.20 336.74V339.34"/>
<path d="M231.82 330.58H234.42"/>
<path d="M231.82 341.23H234.42"/>
<path d="M225.89 338.00H245.64"/>
<path d="M233.31 331.89V345.80"/>
<path d="M225.89 336.70V339.30"/>
<path d="M245.64 336.70V339.30"/>
<path d="M232.01 331.89H234.61"/>
<path d="M232.01 345.80H234.61"/>
<path d="M228.03 340.54H239.26"/>
<path d="M232.99 335.85V350.12"/>
<path d="M228.03 339.24V341.84"/>
<path d="M239.26 339.24V341.84"/>
<path d="M231.69 335.85H234.29"/>
<path d="M231.69 350.12H234.29"/>
<path d="M222.50 340.72H244.30"/>
<path d="M232.40 330.79V356.00"/>
<path d="M222.50 339.42V342.02"/>
<path d="M244.30 339.42V342.02"/>
<path d="M231.10 330.79H233.70"/>
<path d="M231.10 356.00H233.70"/>
<path d="M222.87 342.92H236.90"/>
<path d="M229.94 336.77V350.76"/>
<path d="M222.87 341.62V344.22"/>
<path d="M236.90 341.62V344.22"/>
<path d="M228.64 336.77H231.24"/>
<path d="M228.64 350.76H231.24"/>
<path d="M219.67 342.51H243.10"/>
<path d="M230.14 328.72V353.15"/>
<path d="M219.67 341.21V343.81"/>
<path d="M243.10 341.21V343.81"/>
<path d="M228.84 328.72H231.44"/>
<path d="M228.84 353.15H231.44"/>
<path d="M218.43 344.93H230.97"/>
<path d="M227.23 336.68V349.61"/>
<path d="M218.43 343.63V346.23"/>
<path d="M230.97 343.63V346.23"/>
<path d="M225.93 336.68H228.53"/>
<path d="M225.93 349.61H228.53"/>
<path d="M213.18 344.70H239.42"/>
<path d="M226.97 336.57V355.03"/>
<path d="M213.18 343.40V346.00"/>
<path d="M239.42 343.40V346.00"/>
<path d="M225.67 336.57H228.27"/>
<path d="M225.67 355.03H228.27"/>
<path d="M212.04 348.45H221.67"/>
<path d="M218.79 340.21V356.84"/>
<path d="M212.04 347.15V349.75"/>
<path d="M221.67 347.15V349.75"/>
<path d="M217.49 340.21H220.09"/>
<path d="M217.49 356.84H220.09"/>
<path d="M211.81 347.93H224.45"/>
<path d="M218.62 342.53V358.46"/>
<path d="M211.81 346.63V349.23"/>
<path d="M224.45 346.63V349.23"/>
<path d="M217.32 342.53H219.92"/>
<path d="M217.32 358.46H219.92"/>
<path d="M216.73 348.65H229.83"/>
<path d="M221.68 344.81V358.53"/>
<path d="M216.73 347.35V349.95"/>
<path d="M229.83 347.35V349.95"/>
<path d="M220.38 344.81H222.98"/>
<path d="M220.38 358.53H222.98"/>
<path d="M207.03 348.38H227.81"/>
<path d="M221.05 341.31V356.74"/>
<path d="M207.03 347.08V349.68"/>
<path d="M227.81 347.08V349.68"/>
<path d="M219.75 341.31H222.35"/>
<path d="M219.75 356.74H222.35"/>
<path d="M216.83 348.38H230.76"/>
<path d="M224.51 342.93V355.82"/>
<path d="M216.83 347.08V349.68"/>
<path d="M230.76 347.08V349.68"/>
<path d="M223.21 342.93H225.81"/>
<path d="M223.21 355.82H225.81"/>
<path d="M218.68 348.34H232.32"/>
<path d="M225.40 341.11V361.15"/>
<path d="M218.68 347.04V349.64"/>
<path d="M232.32 347.04V349.64"/>
<path d="M224.10 341.11H226.70"/>
<path d="M224.10 361.15H226.70"/>
<path d="M225.06 347.45H233.93"/>
<path d="M228.46 341.16V352.04"/>
<path d="M225.06 346.15V348.75"/>
<path d="M233.93 346.15V348.75"/>
<path d="M227.16 341.16H229.76"/>
<path d="M227.16 352.04H229.76"/>
<path d="M217.40 348.29H240.12"/>
<path d="M227.85 330.38V354.69"/>
<path d="M217.40 346.99V349.59"/>
<path d="M240.12 346.99V349.59"/>
<path d="M226.55 330.38H229.15"/>
<path d="M226.55 354.69H229.15"/>
<path d="M215.91 350.66H223.51"/>
<path d="M219.17 339.86V354.71"/>
<path d="M215.91 349.36V351.96"/>
<path d="M223.51 349.36V351.96"/>
<path d="M217.87 339.86H220.47"/>
<path d="M217.87 354.71H220.47"/>
<path d="M209.85 351.18H224.70"/>
<path d="M219.62 345.52V367.73"/>
<path d="M209.85 349.88V352.48"/>
<path d="M224.70 349.88V352.48"/>
<path d="M218.32 345.52H220.92"/>
<path d="M218.32 367.73H220.92"/>
<path d="M218.51 351.92H227.68"/>
<path d="M223.25 343.97V356.75"/>
<path d="M218.51 350.62V353.22"/>
<path d="M227.68 350.62V353.22"/>
<path d="M221.95 343.97H224.55"/>
<path d="M221.95 356.75H224.55"/>
<path d="M213.68 351.28H230.62"/>
<path d="M222.75 333.25V363.28"/>
<path d="M213.68 349.98V352.58"/>
<path d="M230.62 349.98V352.58"/>
<path d="M221.45 333.25H224.05"/>
<path d="M221.45 363.28H224.05"/>
<path d="M219.77 351.01H230.81"/>
<path d="M227.74 344.84V359.32"/>
<path d="M219.77 349.71V352.31"/>
<path d="M230.81 349.71V352.31"/>
<path d="M226.44 344.84H229.04"/>
<path d="M226.44 359.32H229.04"/>
<path d="M211.91 351.24H236.36"/>
<path d="M227.16 340.90V365.97"/>
<path d="M211.91 349.94V352.54"/>
<path d="M236.36 349.94V352.54"/>
<path d="M225.86 340.90H228.46"/>
<path d="M225.86 365.97H228.46"/>
<path d="M212.54 352.74H222.31"/>
<path d="M217.20 347.90V359.99"/>
<path d="M212.54 351.44V354.04"/>
<path d="M222.31 351.44V354.04"/>
<path d="M215.90 347.90H218.50"/>
<path d="M215.90 359.99H218.50"/>
<path d="M210.86 353.32H227.51"/>
<path d="M218.19 344.02V363.42"/>
<path d="M210.86 352.02V354.62"/>
<path d="M227.51 352.02V354.62"/>
<path d="M216.89 344.02H219.49"/>
<path d="M216.89 363.42H219.49"/>
<path d="M210.94 353.54H224.75"/>
<path d="M220.63 346.98V357.09"/>
<path d="M210.94 352.24V354.84"/>
<path d="M224.75 352.24V354.84"/>
<path d="M219.33 346.98H221.93"/>
<path d="M219.33 357.09H221.93"/>
<path d="M212.21 354.21H224.77"/>
<path d="M220.27 346.56V362.13"/>
<path d="M212.21 352.91V355.51"/>
<path d="M224.77 352.91V355.51"/>
<path d="M218.97 346.56H221.57"/>
<path d="M218.97 362.13H221.57"/>
<path d="M214.64 355.23H227.82"/>
<path d="M223.22 348.83V359.43"/>
<path d="M214.64 353.93V356.53"/>
<path d="M227.82 353.93V356.53"/>
<path d="M221.92 348.83H224.52"/>
<path d="M221.92 359.43H224.52"/>
<path d="M208.48 355.26H234.63"/>
<path d="M222.49 337.99V360.31"/>
<path d="M208.48 353.96V356.56"/>
<path d="M234.63 353.96V356.56"/>
<path d="M221.19 337.99H223.79"/>
<path d="M221.19 360.31H223.79"/>
<path d="M215.62 359.47H228.35"/>
<path d="M219.32 353.28V368.61"/>
<path d="M215.62 358.17V360.77"/>
<path d="M228.35 358.17V360.77"/>
<path d="M218.02 353.28H220.62"/>
<path d="M218.02 368.61H220.62"/>
<path d="M209.74 359.44H226.41"/>
<path d="M219.41 353.53V366.15"/>
<path d="M209.74 358.14V360.74"/>
<path d="M226.41 358.14V360.74"/>
<path d="M218.11 353.53H220.71"/>
<path d="M218.11 366.15H220.71"/>
<path d="M211.08 362.61H222.46"/>
<path d="M216.65 354.45V366.77"/>
<path d="M211.08 361.31V363.91"/>
<path d="M222.46 361.31V363.91"/>
<path d="M215.35 354.45H217.95"/>
<path d="M215.35 366.77H217.95"/>
<path d="M202.31 363.16H227.93"/>
<path d="M216.14 355.76V370.59"/>
<path d="M202.31 361.86V364.46"/>
<path d="M227.93 361.86V364.46"/>
<path d="M214.84 355.76H217.44"/>
<path d="M214.84 370.59H217.44"/>
<path d="M205.83 363.21H217.70"/>
<path d="M212.15 352.21V368.10"/>
<path d="M205.83 361.91V364.51"/>
<path d="M217.70 361.91V364.51"/>
<path d="M210.85 352.21H213.45"/>
<path d="M210.85 368.10H213.45"/>
<path d="M204.90 363.77H217.36"/>
<path d="M212.48 358.02V376.45"/>
<path d="M204.90 362.47V365.07"/>
<path d="M217.36 362.47V365.07"/>
<path d="M211.18 358.02H213.78"/>
<path d="M211.18 376.45H213.78"/>
<path d="M247.92 294.83H260.75"/>
<path d="M256.76 287.28V303.30"/>
<path d="M247.92 293.53V296.13"/>
<path d="M260.75 293.53V296.13"/>
<path d="M255.46 287.28H258.06"/>
<path d="M255.46 303.30H258.06"/>
<path d="M246.59 294.11H269.46"/>
<path d="M257.26 280.16V300.45"/>
<path d="M246.59 292.81V295.41"/>
<path d="M269.46 292.81V295.41"/>
<path d="M255.96 280.16H258.56"/>
<path d="M255.96 300.45H258.56"/>
<path d="M251.98 301.90H261.87"/>
<path d="M257.29 298.69V306.92"/>
<path d="M251.98 300.60V303.20"/>
<path d="M261.87 300.60V303.20"/>
<path d="M255.99 298.69H258.59"/>
<path d="M255.99 306.92H258.59"/>
<path d="M250.25 302.10H262.16"/>
<path d="M257.10 293.21V310.91"/>
<path d="M250.25 300.80V303.40"/>
<path d="M262.16 300.80V303.40"/>
<path d="M255.80 293.21H258.40"/>
<path d="M255.80 310.91H258.40"/>
<path d="M250.35 304.70H257.32"/>
<path d="M254.48 299.42V310.03"/>
<path d="M250.35 303.40V306.00"/>
<path d="M257.32 303.40V306.00"/>
<path d="M253.18 299.42H255.78"/>
<path d="M253.18 310.03H255.78"/>
<path d="M243.57 304.44H263.49"/>
<path d="M254.77 292.13V308.74"/>
<path d="M243.57 303.14V305.74"/>
<path d="M263.49 303.14V305.74"/>
<path d="M253.47 292.13H256.07"/>
<path d="M253.47 308.74H256.07"/>
<path d="M256.54 305.36H264.21"/>
<path d="M259.50 302.16V311.20"/>
<path d="M256.54 304.06V306.66"/>
<path d="M264.21 304.06V306.66"/>
<path d="M258.20 302.16H260.80"/>
<path d="M258.20 311.20H260.80"/>
<path d="M252.47 305.48H265.87"/>
<path d="M259.87 300.73V313.10"/>
<path d="M252.47 304.18V306.78"/>
<path d="M265.87 304.18V306.78"/>
<path d="M258.57 300.73H261.17"/>
<path d="M258.57 313.10H261.17"/>
<path d="M248.37 311.15H259.13"/>
<path d="M252.74 306.91V316.91"/>
<path d="M248.37 309.85V312.45"/>
<path d="M259.13 309.85V312.45"/>
<path d="M251.44 306.91H254.04"/>
<path d="M251.44 316.91H254.04"/>
<path d="M244.83 310.74H261.88"/>
<path d="M252.75 295.41V322.91"/>
<path d="M244.83 309.44V312.04"/>
<path d="M261.88 309.44V312.04"/>
<path d="M251.45 295.41H254.05"/>
<path d="M251.45 322.91H254.05"/>
<path d="M248.13 313.56H258.47"/>
<path d="M253.56 308.60V321.84"/>
<path d="M248.13 312.26V314.86"/>
<path d="M258.47 312.26V314.86"/>
<path d="M252.26 308.60H254.86"/>
<path d="M252.26 321.84H254.86"/>
<path d="M239.12 313.53H257.01"/>
<path d="M252.87 307.34V323.06"/>
<path d="M239.12 312.23V314.83"/>
<path d="M257.01 312.23V314.83"/>
<path d="M251.57 307.34H254.17"/>
<path d="M251.57 323.06H254.17"/>
<path d="M236.61 313.78H249.20"/>
<path d="M245.92 309.44V317.97"/>
<path d="M236.61 312.48V315.08"/>
<path d="M249.20 312.48V315.08"/>
<path d="M244.62 309.44H247.22"/>
<path d="M244.62 317.97H247.22"/>
<path d="M241.48 314.28H254.62"/>
<path d="M245.69 305.10V321.00"/>
<path d="M241.48 312.98V315.58"/>
<path d="M254.62 312.98V315.58"/>
<path d="M244.39 305.10H246.99"/>
<path d="M244.39 321.00H246.99"/>
<path d="M236.42 316.90H249.13"/>
<path d="M242.86 309.72V325.29"/>
<path d="M236.42 315.60V318.20"/>
<path d="M249.13 315.60V318.20"/>
<path d="M241.56 309.72H244.16"/>
<path d="M241.56 325.29H244.16"/>
<path d="M234.60 317.32H254.83"/>
<path d="M242.53 308.99V329.18"/>
<path d="M234.60 316.02V318.62"/>
<path d="M254.83 316.02V318.62"/>
<path d="M241.23 308.99H243.83"/>
<path d="M241.23 329.18H243.83"/>
<path d="M240.38 317.18H257.20"/>
<path d="M249.69 313.04V324.12"/>
<path d="M240.38 315.88V318.48"/>
<path d="M257.20 315.88V318.48"/>
<path d="M248.39 313.04H250.99"/>
<path d="M248.39 324.12H250.99"/>
<path d="M241.21 316.80H255.94"/>
<path d="M249.38 303.37V326.72"/>
<path d="M241.21 315.50V318.10"/>
<path d="M255.94 315.50V318.10"/>
<path d="M248.08 303.37H250.68"/>
<path d="M248.08 326.72H250.68"/>
<path d="M239.63 319.48H248.11"/>
<path d="M244.58 312.59V323.04"/>
<path d="M239.63 318.18V320.78"/>
<path d="M248.11 318.18V320.78"/>
<path d="M243.28 312.59H245.88"/>
<path d="M243.28 323.04H245.88"/>
<path d="M240.04 319.98H256.09"/>
<path d="M245.43 313.93V329.11"/>
<path d="M240.04 318.68V321.28"/>
<path d="M256.09 318.68V321.28"/>
<path d="M244.13 313.93H246.73"/>
<path d="M244.13 329.11H246.73"/>
<path d="M244.49 320.01H256.15"/>
<path d="M248.30 310.39V323.06"/>
<path d="M244.49 318.71V321.31"/>
<path d="M256.15 318.71V321.31"/>
<path d="M247.00 310.39H249.60"/>
<path d="M247.00 323.06H249.60"/>
<path d="M236.02 319.79H256.51"/>
<path d="M248.86 306.62V326.78"/>
<path d="M236.02 318.49V321.09"/>
<path d="M256.51 318.49V321.09"/>
<path d="M247.56 306.62H250.16"/>
<path d="M247.56 326.78H250.16"/>
<path d="M232.72 323.10H245.04"/>
<path d="M237.78 313.59V331.66"/>
<path d="M232.72 321.80V324.40"/>
<path d="M245.04 321.80V324.40"/>
<path d="M236.48 313.59H239.08"/>
<path d="M236.48 331.66H239.08"/>
<path d="M225.25 323.05H247.23"/>
<path d="M237.25 308.37V336.08"/>
<path d="M225.25 321.75V324.35"/>
<path d="M247.23 321.75V324.35"/>
<path d="M235.95 308.37H238.55"/>
<path d="M235.95 336.08H238.55"/>
<path d="M237.25 324.53H248.62"/>
<path d="M244.70 320.10V327.34"/>
<path d="M237.25 323.23V325.83"/>
<path d="M248.62 323.23V325.83"/>
<path d="M243.40 320.10H246.00"/>
<path d="M243.40 327.34H246.00"/>
<path d="M229.86 323.88H249.98"/>
<path d="M244.76 310.87V332.78"/>
<path d="M229.86 322.58V325.18"/>
<path d="M249.98 322.58V325.18"/>
<path d="M243.46 310.87H246.06"/>
<path d="M243.46 332.78H246.06"/>
<path d="M266.08 282.45H282.68"/>
<path d="M274.64 279.35V289.59"/>
<path d="M266.08 281.15V283.75"/>
<path d="M282.68 281.15V283.75"/>
<path d="M273.34 279.35H275.94"/>
<path d="M273.34 289.59H275.94"/>
<path d="M268.04 282.43H285.08"/>
<path d="M274.90 267.10V287.63"/>
<path d="M268.04 281.13V283.73"/>
<path d="M285.08 281.13V283.73"/>
<path d="M273.60 267.10H276.20"/>
<path d="M273.60 287.63H276.20"/>
<path d="M197.40 247.00V388.00"/>
<path d="M230.60 247.00V330.00"/>
<path d="M197.00 389.20H302.30"/>
<path d="M259.50 292.20H302.30"/>
<path d="M248.10 275.30V296.60"/>
<path d="M246.80 275.30H249.40"/>
<path d="M255.10 262.00V294.50"/>
<path d="M253.80 262.00H256.40"/>
<path d="M259.00 247.00V292.20"/>
<path d="M199.90 384.60H215.70"/>
<path d="M215.70 383.30V385.90"/>
</g>
<circle cx="197.00" cy="389.50" r="2.15" stroke="#1f77b4" stroke-width="0.95" fill="#fff"/>
<circle cx="199.90" cy="384.60" r="2.15" stroke="#1f77b4" stroke-width="0.95" fill="#fff"/>
<circle cx="199.00" cy="385.50" r="2.15" stroke="#1f77b4" stroke-width="0.95" fill="#fff"/>
<circle cx="204.30" cy="379.30" r="2.15" stroke="#1f77b4" stroke-width="0.95" fill="#fff"/>
<circle cx="206.30" cy="376.40" r="2.15" stroke="#1f77b4" stroke-width="0.95" fill="#fff"/>
<circle cx="208.70" cy="373.80" r="2.15" stroke="#1f77b4" stroke-width="0.95" fill="#fff"/>
<circle cx="210.20" cy="371.70" r="2.15" stroke="#1f77b4" stroke-width="0.95" fill="#fff"/>
<circle cx="209.80" cy="369.40" r="2.15" stroke="#1f77b4" stroke-width="0.95" fill="#fff"/>
<circle cx="211.60" cy="366.40" r="2.15" stroke="#1f77b4" stroke-width="0.95" fill="#fff"/>
<circle cx="211.60" cy="363.30" r="2.15" stroke="#1f77b4" stroke-width="0.95" fill="#fff"/>
<circle cx="214.50" cy="366.40" r="2.15" stroke="#1f77b4" stroke-width="0.95" fill="#fff"/>
<circle cx="215.10" cy="363.50" r="2.15" stroke="#1f77b4" stroke-width="0.95" fill="#fff"/>
<circle cx="217.40" cy="362.30" r="2.15" stroke="#1f77b4" stroke-width="0.95" fill="#fff"/>
<circle cx="217.20" cy="364.70" r="2.15" stroke="#1f77b4" stroke-width="0.95" fill="#fff"/>
<circle cx="238.10" cy="323.40" r="2.15" stroke="#1f77b4" stroke-width="0.95" fill="#fff"/>
<circle cx="243.30" cy="325.10" r="2.15" stroke="#1f77b4" stroke-width="0.95" fill="#fff"/>
<circle cx="236.40" cy="326.30" r="2.15" stroke="#1f77b4" stroke-width="0.95" fill="#fff"/>
<circle cx="229.60" cy="329.70" r="2.15" stroke="#1f77b4" stroke-width="0.95" fill="#fff"/>
<circle cx="234.70" cy="330.30" r="2.15" stroke="#1f77b4" stroke-width="0.95" fill="#fff"/>
<circle cx="238.10" cy="329.10" r="2.15" stroke="#1f77b4" stroke-width="0.95" fill="#fff"/>
<circle cx="241.60" cy="329.10" r="2.15" stroke="#1f77b4" stroke-width="0.95" fill="#fff"/>
<circle cx="229.60" cy="333.50" r="2.15" stroke="#1f77b4" stroke-width="0.95" fill="#fff"/>
<circle cx="234.10" cy="334.30" r="2.15" stroke="#1f77b4" stroke-width="0.95" fill="#fff"/>
<circle cx="239.30" cy="334.60" r="2.15" stroke="#1f77b4" stroke-width="0.95" fill="#fff"/>
<circle cx="230.70" cy="336.00" r="2.15" stroke="#1f77b4" stroke-width="0.95" fill="#fff"/>
<circle cx="233.00" cy="338.30" r="2.15" stroke="#1f77b4" stroke-width="0.95" fill="#fff"/>
<circle cx="232.40" cy="341.10" r="2.15" stroke="#1f77b4" stroke-width="0.95" fill="#fff"/>
<circle cx="229.60" cy="342.90" r="2.15" stroke="#1f77b4" stroke-width="0.95" fill="#fff"/>
<circle cx="227.30" cy="344.60" r="2.15" stroke="#1f77b4" stroke-width="0.95" fill="#fff"/>
<circle cx="218.70" cy="348.00" r="2.15" stroke="#1f77b4" stroke-width="0.95" fill="#fff"/>
<circle cx="221.60" cy="348.60" r="2.15" stroke="#1f77b4" stroke-width="0.95" fill="#fff"/>
<circle cx="225.00" cy="348.00" r="2.15" stroke="#1f77b4" stroke-width="0.95" fill="#fff"/>
<circle cx="227.90" cy="348.00" r="2.15" stroke="#1f77b4" stroke-width="0.95" fill="#fff"/>
<circle cx="219.30" cy="350.90" r="2.15" stroke="#1f77b4" stroke-width="0.95" fill="#fff"/>
<circle cx="223.30" cy="351.40" r="2.15" stroke="#1f77b4" stroke-width="0.95" fill="#fff"/>
<circle cx="227.30" cy="350.90" r="2.15" stroke="#1f77b4" stroke-width="0.95" fill="#fff"/>
<circle cx="217.60" cy="353.10" r="2.15" stroke="#1f77b4" stroke-width="0.95" fill="#fff"/>
<circle cx="220.40" cy="353.70" r="2.15" stroke="#1f77b4" stroke-width="0.95" fill="#fff"/>
<circle cx="222.70" cy="355.40" r="2.15" stroke="#1f77b4" stroke-width="0.95" fill="#fff"/>
<circle cx="219.30" cy="360.00" r="2.15" stroke="#1f77b4" stroke-width="0.95" fill="#fff"/>
<circle cx="216.40" cy="362.90" r="2.15" stroke="#1f77b4" stroke-width="0.95" fill="#fff"/>
<circle cx="212.40" cy="363.40" r="2.15" stroke="#1f77b4" stroke-width="0.95" fill="#fff"/>
<circle cx="248.30" cy="296.30" r="2.15" stroke="#1f77b4" stroke-width="0.95" fill="#fff"/>
<circle cx="252.30" cy="296.30" r="2.15" stroke="#1f77b4" stroke-width="0.95" fill="#fff"/>
<circle cx="257.10" cy="294.60" r="2.15" stroke="#1f77b4" stroke-width="0.95" fill="#fff"/>
<circle cx="259.10" cy="292.30" r="2.15" stroke="#1f77b4" stroke-width="0.95" fill="#fff"/>
<circle cx="257.50" cy="301.90" r="2.15" stroke="#1f77b4" stroke-width="0.95" fill="#fff"/>
<circle cx="254.90" cy="304.60" r="2.15" stroke="#1f77b4" stroke-width="0.95" fill="#fff"/>
<circle cx="259.40" cy="305.40" r="2.15" stroke="#1f77b4" stroke-width="0.95" fill="#fff"/>
<circle cx="252.60" cy="310.60" r="2.15" stroke="#1f77b4" stroke-width="0.95" fill="#fff"/>
<circle cx="253.10" cy="313.70" r="2.15" stroke="#1f77b4" stroke-width="0.95" fill="#fff"/>
<circle cx="245.70" cy="314.10" r="2.15" stroke="#1f77b4" stroke-width="0.95" fill="#fff"/>
<circle cx="242.30" cy="317.10" r="2.15" stroke="#1f77b4" stroke-width="0.95" fill="#fff"/>
<circle cx="249.70" cy="317.10" r="2.15" stroke="#1f77b4" stroke-width="0.95" fill="#fff"/>
<circle cx="245.10" cy="320.00" r="2.15" stroke="#1f77b4" stroke-width="0.95" fill="#fff"/>
<circle cx="248.60" cy="320.00" r="2.15" stroke="#1f77b4" stroke-width="0.95" fill="#fff"/>
<circle cx="237.70" cy="323.20" r="2.15" stroke="#1f77b4" stroke-width="0.95" fill="#fff"/>
<circle cx="244.60" cy="324.00" r="2.15" stroke="#1f77b4" stroke-width="0.95" fill="#fff"/>
<circle cx="271.00" cy="279.80" r="2.15" stroke="#1f77b4" stroke-width="0.95" fill="#fff"/>
<circle cx="275.10" cy="283.00" r="2.15" stroke="#1f77b4" stroke-width="0.95" fill="#fff"/>
<path d="M48.00 412.10L48.00 408.30M48.00 247.00L48.00 250.80M88.80 412.10L88.80 408.30M88.80 247.00L88.80 250.80M129.60 412.10L129.60 408.30M129.60 247.00L129.60 250.80M170.40 412.10L170.40 408.30M170.40 247.00L170.40 250.80M48.00 412.10L51.80 412.10M170.40 412.10L166.60 412.10M48.00 384.58L51.80 384.58M170.40 384.58L166.60 384.58M48.00 357.07L51.80 357.07M170.40 357.07L166.60 357.07M48.00 329.55L51.80 329.55M170.40 329.55L166.60 329.55M48.00 302.03L51.80 302.03M170.40 302.03L166.60 302.03M48.00 274.52L51.80 274.52M170.40 274.52L166.60 274.52M48.00 247.00L51.80 247.00M170.40 247.00L166.60 247.00" stroke="#333" stroke-width="1.00" fill="none"/>
<path d="M48.00 412.10L48.00 409.70M48.00 247.00L48.00 249.40M56.16 412.10L56.16 409.70M56.16 247.00L56.16 249.40M64.32 412.10L64.32 409.70M64.32 247.00L64.32 249.40M72.48 412.10L72.48 409.70M72.48 247.00L72.48 249.40M80.64 412.10L80.64 409.70M80.64 247.00L80.64 249.40M88.80 412.10L88.80 409.70M88.80 247.00L88.80 249.40M96.96 412.10L96.96 409.70M96.96 247.00L96.96 249.40M105.12 412.10L105.12 409.70M105.12 247.00L105.12 249.40M113.28 412.10L113.28 409.70M113.28 247.00L113.28 249.40M121.44 412.10L121.44 409.70M121.44 247.00L121.44 249.40M129.60 412.10L129.60 409.70M129.60 247.00L129.60 249.40M137.76 412.10L137.76 409.70M137.76 247.00L137.76 249.40M145.92 412.10L145.92 409.70M145.92 247.00L145.92 249.40M154.08 412.10L154.08 409.70M154.08 247.00L154.08 249.40M162.24 412.10L162.24 409.70M162.24 247.00L162.24 249.40M170.40 412.10L170.40 409.70M170.40 247.00L170.40 249.40M48.00 412.10L50.40 412.10M170.40 412.10L168.00 412.10M48.00 406.60L50.40 406.60M170.40 406.60L168.00 406.60M48.00 401.09L50.40 401.09M170.40 401.09L168.00 401.09M48.00 395.59L50.40 395.59M170.40 395.59L168.00 395.59M48.00 390.09L50.40 390.09M170.40 390.09L168.00 390.09M48.00 384.58L50.40 384.58M170.40 384.58L168.00 384.58M48.00 379.08L50.40 379.08M170.40 379.08L168.00 379.08M48.00 373.58L50.40 373.58M170.40 373.58L168.00 373.58M48.00 368.07L50.40 368.07M170.40 368.07L168.00 368.07M48.00 362.57L50.40 362.57M170.40 362.57L168.00 362.57M48.00 357.07L50.40 357.07M170.40 357.07L168.00 357.07M48.00 351.56L50.40 351.56M170.40 351.56L168.00 351.56M48.00 346.06L50.40 346.06M170.40 346.06L168.00 346.06M48.00 340.56L50.40 340.56M170.40 340.56L168.00 340.56M48.00 335.05L50.40 335.05M170.40 335.05L168.00 335.05M48.00 329.55L50.40 329.55M170.40 329.55L168.00 329.55M48.00 324.05L50.40 324.05M170.40 324.05L168.00 324.05M48.00 318.54L50.40 318.54M170.40 318.54L168.00 318.54M48.00 313.04L50.40 313.04M170.40 313.04L168.00 313.04M48.00 307.54L50.40 307.54M170.40 307.54L168.00 307.54M48.00 302.03L50.40 302.03M170.40 302.03L168.00 302.03M48.00 296.53L50.40 296.53M170.40 296.53L168.00 296.53M48.00 291.03L50.40 291.03M170.40 291.03L168.00 291.03M48.00 285.52L50.40 285.52M170.40 285.52L168.00 285.52M48.00 280.02L50.40 280.02M170.40 280.02L168.00 280.02M48.00 274.52L50.40 274.52M170.40 274.52L168.00 274.52M48.00 269.01L50.40 269.01M170.40 269.01L168.00 269.01M48.00 263.51L50.40 263.51M170.40 263.51L168.00 263.51M48.00 258.01L50.40 258.01M170.40 258.01L168.00 258.01M48.00 252.50L50.40 252.50M170.40 252.50L168.00 252.50M48.00 247.00L50.40 247.00M170.40 247.00L168.00 247.00" stroke="#333" stroke-width="0.70" fill="none"/>
<text x="40.40" y="416.30" font-size="10.60" text-anchor="end" fill="#111" stroke="#111" stroke-width="0.15" textLength="21.60" lengthAdjust="spacingAndGlyphs">−3.0</text>
<text x="40.40" y="388.78" font-size="10.60" text-anchor="end" fill="#111" stroke="#111" stroke-width="0.15" textLength="21.60" lengthAdjust="spacingAndGlyphs">−2.5</text>
<text x="40.40" y="361.27" font-size="10.60" text-anchor="end" fill="#111" stroke="#111" stroke-width="0.15" textLength="21.60" lengthAdjust="spacingAndGlyphs">−2.0</text>
<text x="40.40" y="333.75" font-size="10.60" text-anchor="end" fill="#111" stroke="#111" stroke-width="0.15" textLength="21.60" lengthAdjust="spacingAndGlyphs">−1.5</text>
<text x="40.40" y="306.23" font-size="10.60" text-anchor="end" fill="#111" stroke="#111" stroke-width="0.15" textLength="21.60" lengthAdjust="spacingAndGlyphs">−1.0</text>
<text x="40.40" y="278.72" font-size="10.60" text-anchor="end" fill="#111" stroke="#111" stroke-width="0.15" textLength="21.60" lengthAdjust="spacingAndGlyphs">−0.5</text>
<text x="40.40" y="251.20" font-size="10.60" text-anchor="end" fill="#111" stroke="#111" stroke-width="0.15" textLength="14.20" lengthAdjust="spacingAndGlyphs">0.0</text>
<text x="48.30" y="428.20" font-size="10.60" text-anchor="middle" fill="#111" stroke="#111" stroke-width="0.15" textLength="12.40" lengthAdjust="spacingAndGlyphs">−3</text>
<text x="89.10" y="428.20" font-size="10.60" text-anchor="middle" fill="#111" stroke="#111" stroke-width="0.15" textLength="12.40" lengthAdjust="spacingAndGlyphs">−2</text>
<text x="129.90" y="428.20" font-size="10.60" text-anchor="middle" fill="#111" stroke="#111" stroke-width="0.15" textLength="12.40" lengthAdjust="spacingAndGlyphs">−1</text>
<text x="170.70" y="428.20" font-size="10.60" text-anchor="middle" fill="#111" stroke="#111" stroke-width="0.15" textLength="5.60" lengthAdjust="spacingAndGlyphs">0</text>
<path d="M184.31 412.10L184.31 408.30M184.31 247.00L184.31 250.80M222.37 412.10L222.37 408.30M222.37 247.00L222.37 250.80M260.43 412.10L260.43 408.30M260.43 247.00L260.43 250.80M298.49 412.10L298.49 408.30M298.49 247.00L298.49 250.80M180.50 406.94L184.30 406.94M302.30 406.94L298.50 406.94M180.50 381.14L184.30 381.14M302.30 381.14L298.50 381.14M180.50 355.35L184.30 355.35M302.30 355.35L298.50 355.35M180.50 329.55L184.30 329.55M302.30 329.55L298.50 329.55M180.50 303.75L184.30 303.75M302.30 303.75L298.50 303.75M180.50 277.96L184.30 277.96M302.30 277.96L298.50 277.96M180.50 252.16L184.30 252.16M302.30 252.16L298.50 252.16" stroke="#333" stroke-width="1.00" fill="none"/>
<path d="M184.31 412.10L184.31 409.70M184.31 247.00L184.31 249.40M191.92 412.10L191.92 409.70M191.92 247.00L191.92 249.40M199.53 412.10L199.53 409.70M199.53 247.00L199.53 249.40M207.14 412.10L207.14 409.70M207.14 247.00L207.14 249.40M214.76 412.10L214.76 409.70M214.76 247.00L214.76 249.40M222.37 412.10L222.37 409.70M222.37 247.00L222.37 249.40M229.98 412.10L229.98 409.70M229.98 247.00L229.98 249.40M237.59 412.10L237.59 409.70M237.59 247.00L237.59 249.40M245.21 412.10L245.21 409.70M245.21 247.00L245.21 249.40M252.82 412.10L252.82 409.70M252.82 247.00L252.82 249.40M260.43 412.10L260.43 409.70M260.43 247.00L260.43 249.40M268.04 412.10L268.04 409.70M268.04 247.00L268.04 249.40M275.66 412.10L275.66 409.70M275.66 247.00L275.66 249.40M283.27 412.10L283.27 409.70M283.27 247.00L283.27 249.40M290.88 412.10L290.88 409.70M290.88 247.00L290.88 249.40M298.49 412.10L298.49 409.70M298.49 247.00L298.49 249.40M180.50 412.10L182.90 412.10M302.30 412.10L299.90 412.10M180.50 406.94L182.90 406.94M302.30 406.94L299.90 406.94M180.50 401.78L182.90 401.78M302.30 401.78L299.90 401.78M180.50 396.62L182.90 396.62M302.30 396.62L299.90 396.62M180.50 391.46L182.90 391.46M302.30 391.46L299.90 391.46M180.50 386.30L182.90 386.30M302.30 386.30L299.90 386.30M180.50 381.14L182.90 381.14M302.30 381.14L299.90 381.14M180.50 375.98L182.90 375.98M302.30 375.98L299.90 375.98M180.50 370.82L182.90 370.82M302.30 370.82L299.90 370.82M180.50 365.67L182.90 365.67M302.30 365.67L299.90 365.67M180.50 360.51L182.90 360.51M302.30 360.51L299.90 360.51M180.50 355.35L182.90 355.35M302.30 355.35L299.90 355.35M180.50 350.19L182.90 350.19M302.30 350.19L299.90 350.19M180.50 345.03L182.90 345.03M302.30 345.03L299.90 345.03M180.50 339.87L182.90 339.87M302.30 339.87L299.90 339.87M180.50 334.71L182.90 334.71M302.30 334.71L299.90 334.71M180.50 329.55L182.90 329.55M302.30 329.55L299.90 329.55M180.50 324.39L182.90 324.39M302.30 324.39L299.90 324.39M180.50 319.23L182.90 319.23M302.30 319.23L299.90 319.23M180.50 314.07L182.90 314.07M302.30 314.07L299.90 314.07M180.50 308.91L182.90 308.91M302.30 308.91L299.90 308.91M180.50 303.75L182.90 303.75M302.30 303.75L299.90 303.75M180.50 298.59L182.90 298.59M302.30 298.59L299.90 298.59M180.50 293.43L182.90 293.43M302.30 293.43L299.90 293.43M180.50 288.27L182.90 288.27M302.30 288.27L299.90 288.27M180.50 283.12L182.90 283.12M302.30 283.12L299.90 283.12M180.50 277.96L182.90 277.96M302.30 277.96L299.90 277.96M180.50 272.80L182.90 272.80M302.30 272.80L299.90 272.80M180.50 267.64L182.90 267.64M302.30 267.64L299.90 267.64M180.50 262.48L182.90 262.48M302.30 262.48L299.90 262.48M180.50 257.32L182.90 257.32M302.30 257.32L299.90 257.32M180.50 252.16L182.90 252.16M302.30 252.16L299.90 252.16M180.50 247.00L182.90 247.00M302.30 247.00L299.90 247.00" stroke="#333" stroke-width="0.70" fill="none"/>
<text x="310.60" y="411.14" font-size="10.60" text-anchor="start" fill="#111" stroke="#111" stroke-width="0.15" textLength="21.60" lengthAdjust="spacingAndGlyphs">−3.0</text>
<text x="310.60" y="385.34" font-size="10.60" text-anchor="start" fill="#111" stroke="#111" stroke-width="0.15" textLength="21.60" lengthAdjust="spacingAndGlyphs">−2.5</text>
<text x="310.60" y="359.55" font-size="10.60" text-anchor="start" fill="#111" stroke="#111" stroke-width="0.15" textLength="21.60" lengthAdjust="spacingAndGlyphs">−2.0</text>
<text x="310.60" y="333.75" font-size="10.60" text-anchor="start" fill="#111" stroke="#111" stroke-width="0.15" textLength="21.60" lengthAdjust="spacingAndGlyphs">−1.5</text>
<text x="310.60" y="307.95" font-size="10.60" text-anchor="start" fill="#111" stroke="#111" stroke-width="0.15" textLength="21.60" lengthAdjust="spacingAndGlyphs">−1.0</text>
<text x="310.60" y="282.16" font-size="10.60" text-anchor="start" fill="#111" stroke="#111" stroke-width="0.15" textLength="21.60" lengthAdjust="spacingAndGlyphs">−0.5</text>
<text x="310.60" y="256.36" font-size="10.60" text-anchor="start" fill="#111" stroke="#111" stroke-width="0.15" textLength="14.20" lengthAdjust="spacingAndGlyphs">0.0</text>
<text x="184.61" y="428.20" font-size="10.60" text-anchor="middle" fill="#111" stroke="#111" stroke-width="0.15" textLength="12.40" lengthAdjust="spacingAndGlyphs">−3</text>
<text x="222.67" y="428.20" font-size="10.60" text-anchor="middle" fill="#111" stroke="#111" stroke-width="0.15" textLength="12.40" lengthAdjust="spacingAndGlyphs">−2</text>
<text x="260.73" y="428.20" font-size="10.60" text-anchor="middle" fill="#111" stroke="#111" stroke-width="0.15" textLength="12.40" lengthAdjust="spacingAndGlyphs">−1</text>
<text x="298.79" y="428.20" font-size="10.60" text-anchor="middle" fill="#111" stroke="#111" stroke-width="0.15" textLength="5.60" lengthAdjust="spacingAndGlyphs">0</text>
<text x="10.00" y="329.50" font-size="12.20" text-anchor="middle" fill="#111" textLength="44.00" lengthAdjust="spacingAndGlyphs" transform="rotate(-90.00 10.00 329.50)"><tspan font-family="Liberation Sans" font-style="italic">β</tspan> (SMC)</text>
<text x="348.60" y="329.30" font-size="12.20" text-anchor="middle" fill="#111" textLength="95.00" lengthAdjust="spacingAndGlyphs" transform="rotate(-90.00 348.60 329.30)"><tspan font-family="Liberation Sans" font-style="italic">β</tspan> (Calzetti+SMC)</text>
<text x="175.20" y="441.50" font-size="12.20" text-anchor="middle" fill="#111" textLength="62.00" lengthAdjust="spacingAndGlyphs"><tspan font-family="Liberation Sans" font-style="italic">β</tspan> (Calzetti)</text>
<rect x="48.00" y="247.00" width="122.40" height="165.10" fill="none" stroke="#333" stroke-width="1.00"/>
<rect x="180.50" y="247.00" width="121.80" height="165.10" fill="none" stroke="#333" stroke-width="1.00"/>
</svg></body></html>
